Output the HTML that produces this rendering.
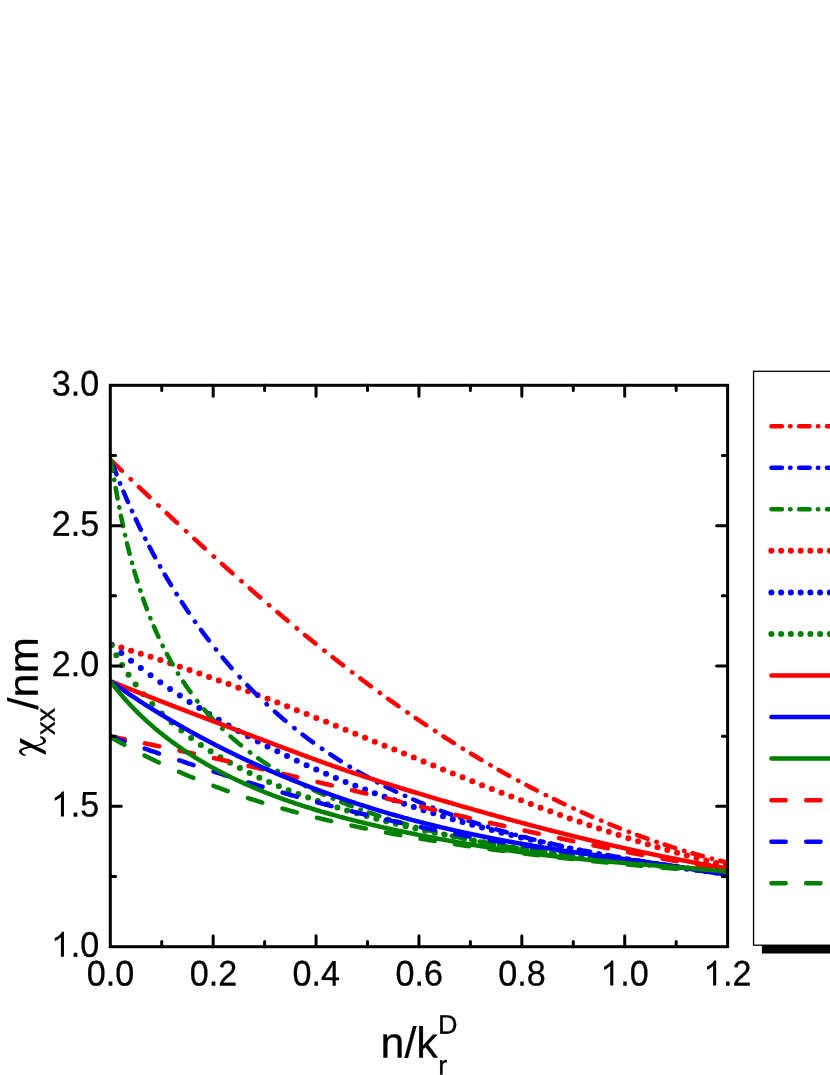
<!DOCTYPE html>
<html><head><meta charset="utf-8"><title>chart</title>
<style>html,body{margin:0;padding:0;background:#fff;overflow:hidden}svg{display:block;will-change:transform}text{font-family:"Liberation Sans",sans-serif;fill:#000;stroke:#000;stroke-width:0.3px}</style>
</head><body>
<svg width="830" height="1075" viewBox="0 0 830 1075">
<rect width="830" height="1075" fill="#fff"/>
<defs><clipPath id="cp"><rect x="109.6" y="380" width="619" height="570"/></clipPath></defs><g id="curves" clip-path="url(#cp)"><circle cx="111.56" cy="644.68" r="3.0" fill="#ff0000"/><circle cx="121.31" cy="647.62" r="3.0" fill="#ff0000"/><circle cx="131.06" cy="650.63" r="3.0" fill="#ff0000"/><circle cx="140.81" cy="653.71" r="3.0" fill="#ff0000"/><circle cx="150.56" cy="656.85" r="3.0" fill="#ff0000"/><circle cx="160.31" cy="660.05" r="3.0" fill="#ff0000"/><circle cx="170.06" cy="663.31" r="3.0" fill="#ff0000"/><circle cx="179.81" cy="666.63" r="3.0" fill="#ff0000"/><circle cx="189.56" cy="670.01" r="3.0" fill="#ff0000"/><circle cx="199.31" cy="673.44" r="3.0" fill="#ff0000"/><circle cx="209.06" cy="676.92" r="3.0" fill="#ff0000"/><circle cx="218.81" cy="680.46" r="3.0" fill="#ff0000"/><circle cx="228.56" cy="684.04" r="3.0" fill="#ff0000"/><circle cx="238.31" cy="687.66" r="3.0" fill="#ff0000"/><circle cx="248.06" cy="691.32" r="3.0" fill="#ff0000"/><circle cx="257.81" cy="695.03" r="3.0" fill="#ff0000"/><circle cx="267.56" cy="698.77" r="3.0" fill="#ff0000"/><circle cx="277.31" cy="702.55" r="3.0" fill="#ff0000"/><circle cx="287.06" cy="706.36" r="3.0" fill="#ff0000"/><circle cx="296.81" cy="710.19" r="3.0" fill="#ff0000"/><circle cx="306.56" cy="714.06" r="3.0" fill="#ff0000"/><circle cx="316.31" cy="717.95" r="3.0" fill="#ff0000"/><circle cx="326.06" cy="721.86" r="3.0" fill="#ff0000"/><circle cx="335.81" cy="725.79" r="3.0" fill="#ff0000"/><circle cx="345.56" cy="729.74" r="3.0" fill="#ff0000"/><circle cx="355.31" cy="733.69" r="3.0" fill="#ff0000"/><circle cx="365.06" cy="737.67" r="3.0" fill="#ff0000"/><circle cx="374.81" cy="741.64" r="3.0" fill="#ff0000"/><circle cx="384.56" cy="745.63" r="3.0" fill="#ff0000"/><circle cx="394.31" cy="749.61" r="3.0" fill="#ff0000"/><circle cx="404.06" cy="753.60" r="3.0" fill="#ff0000"/><circle cx="413.81" cy="757.58" r="3.0" fill="#ff0000"/><circle cx="423.56" cy="761.56" r="3.0" fill="#ff0000"/><circle cx="433.31" cy="765.53" r="3.0" fill="#ff0000"/><circle cx="443.06" cy="769.49" r="3.0" fill="#ff0000"/><circle cx="452.81" cy="773.43" r="3.0" fill="#ff0000"/><circle cx="462.56" cy="777.36" r="3.0" fill="#ff0000"/><circle cx="472.31" cy="781.26" r="3.0" fill="#ff0000"/><circle cx="482.06" cy="785.14" r="3.0" fill="#ff0000"/><circle cx="491.81" cy="788.99" r="3.0" fill="#ff0000"/><circle cx="501.56" cy="792.80" r="3.0" fill="#ff0000"/><circle cx="511.31" cy="796.59" r="3.0" fill="#ff0000"/><circle cx="521.06" cy="800.34" r="3.0" fill="#ff0000"/><circle cx="530.81" cy="804.04" r="3.0" fill="#ff0000"/><circle cx="540.56" cy="807.70" r="3.0" fill="#ff0000"/><circle cx="550.31" cy="811.32" r="3.0" fill="#ff0000"/><circle cx="560.06" cy="814.89" r="3.0" fill="#ff0000"/><circle cx="569.81" cy="818.40" r="3.0" fill="#ff0000"/><circle cx="579.56" cy="821.86" r="3.0" fill="#ff0000"/><circle cx="589.31" cy="825.25" r="3.0" fill="#ff0000"/><circle cx="599.06" cy="828.59" r="3.0" fill="#ff0000"/><circle cx="608.81" cy="831.87" r="3.0" fill="#ff0000"/><circle cx="618.56" cy="835.07" r="3.0" fill="#ff0000"/><circle cx="628.31" cy="838.21" r="3.0" fill="#ff0000"/><circle cx="638.06" cy="841.28" r="3.0" fill="#ff0000"/><circle cx="647.81" cy="844.27" r="3.0" fill="#ff0000"/><circle cx="657.56" cy="847.18" r="3.0" fill="#ff0000"/><circle cx="667.31" cy="850.02" r="3.0" fill="#ff0000"/><circle cx="677.06" cy="852.77" r="3.0" fill="#ff0000"/><circle cx="686.81" cy="855.45" r="3.0" fill="#ff0000"/><circle cx="696.56" cy="858.03" r="3.0" fill="#ff0000"/><circle cx="706.31" cy="860.53" r="3.0" fill="#ff0000"/><circle cx="716.06" cy="862.93" r="3.0" fill="#ff0000"/><circle cx="725.81" cy="865.25" r="3.0" fill="#ff0000"/><circle cx="111.56" cy="645.08" r="3.0" fill="#0000ff"/><circle cx="121.31" cy="653.00" r="3.0" fill="#0000ff"/><circle cx="131.06" cy="660.67" r="3.0" fill="#0000ff"/><circle cx="140.81" cy="668.09" r="3.0" fill="#0000ff"/><circle cx="150.56" cy="675.28" r="3.0" fill="#0000ff"/><circle cx="160.31" cy="682.25" r="3.0" fill="#0000ff"/><circle cx="170.06" cy="689.01" r="3.0" fill="#0000ff"/><circle cx="179.81" cy="695.56" r="3.0" fill="#0000ff"/><circle cx="189.56" cy="701.91" r="3.0" fill="#0000ff"/><circle cx="199.31" cy="708.07" r="3.0" fill="#0000ff"/><circle cx="209.06" cy="714.05" r="3.0" fill="#0000ff"/><circle cx="218.81" cy="719.86" r="3.0" fill="#0000ff"/><circle cx="228.56" cy="725.50" r="3.0" fill="#0000ff"/><circle cx="238.31" cy="730.98" r="3.0" fill="#0000ff"/><circle cx="248.06" cy="736.30" r="3.0" fill="#0000ff"/><circle cx="257.81" cy="741.46" r="3.0" fill="#0000ff"/><circle cx="267.56" cy="746.48" r="3.0" fill="#0000ff"/><circle cx="277.31" cy="751.36" r="3.0" fill="#0000ff"/><circle cx="287.06" cy="756.10" r="3.0" fill="#0000ff"/><circle cx="296.81" cy="760.71" r="3.0" fill="#0000ff"/><circle cx="306.56" cy="765.19" r="3.0" fill="#0000ff"/><circle cx="316.31" cy="769.54" r="3.0" fill="#0000ff"/><circle cx="326.06" cy="773.78" r="3.0" fill="#0000ff"/><circle cx="335.81" cy="777.89" r="3.0" fill="#0000ff"/><circle cx="345.56" cy="781.89" r="3.0" fill="#0000ff"/><circle cx="355.31" cy="785.78" r="3.0" fill="#0000ff"/><circle cx="365.06" cy="789.57" r="3.0" fill="#0000ff"/><circle cx="374.81" cy="793.24" r="3.0" fill="#0000ff"/><circle cx="384.56" cy="796.82" r="3.0" fill="#0000ff"/><circle cx="394.31" cy="800.29" r="3.0" fill="#0000ff"/><circle cx="404.06" cy="803.67" r="3.0" fill="#0000ff"/><circle cx="413.81" cy="806.96" r="3.0" fill="#0000ff"/><circle cx="423.56" cy="810.15" r="3.0" fill="#0000ff"/><circle cx="433.31" cy="813.25" r="3.0" fill="#0000ff"/><circle cx="443.06" cy="816.27" r="3.0" fill="#0000ff"/><circle cx="452.81" cy="819.20" r="3.0" fill="#0000ff"/><circle cx="462.56" cy="822.05" r="3.0" fill="#0000ff"/><circle cx="472.31" cy="824.82" r="3.0" fill="#0000ff"/><circle cx="482.06" cy="827.51" r="3.0" fill="#0000ff"/><circle cx="491.81" cy="830.12" r="3.0" fill="#0000ff"/><circle cx="501.56" cy="832.65" r="3.0" fill="#0000ff"/><circle cx="511.31" cy="835.12" r="3.0" fill="#0000ff"/><circle cx="521.06" cy="837.51" r="3.0" fill="#0000ff"/><circle cx="530.81" cy="839.83" r="3.0" fill="#0000ff"/><circle cx="540.56" cy="842.08" r="3.0" fill="#0000ff"/><circle cx="550.31" cy="844.27" r="3.0" fill="#0000ff"/><circle cx="560.06" cy="846.39" r="3.0" fill="#0000ff"/><circle cx="569.81" cy="848.45" r="3.0" fill="#0000ff"/><circle cx="579.56" cy="850.44" r="3.0" fill="#0000ff"/><circle cx="589.31" cy="852.38" r="3.0" fill="#0000ff"/><circle cx="599.06" cy="854.25" r="3.0" fill="#0000ff"/><circle cx="608.81" cy="856.07" r="3.0" fill="#0000ff"/><circle cx="618.56" cy="857.83" r="3.0" fill="#0000ff"/><circle cx="628.31" cy="859.53" r="3.0" fill="#0000ff"/><circle cx="638.06" cy="861.18" r="3.0" fill="#0000ff"/><circle cx="647.81" cy="862.77" r="3.0" fill="#0000ff"/><circle cx="657.56" cy="864.32" r="3.0" fill="#0000ff"/><circle cx="667.31" cy="865.81" r="3.0" fill="#0000ff"/><circle cx="677.06" cy="867.25" r="3.0" fill="#0000ff"/><circle cx="686.81" cy="868.65" r="3.0" fill="#0000ff"/><circle cx="696.56" cy="869.99" r="3.0" fill="#0000ff"/><circle cx="706.31" cy="871.29" r="3.0" fill="#0000ff"/><circle cx="716.06" cy="872.55" r="3.0" fill="#0000ff"/><circle cx="725.81" cy="873.76" r="3.0" fill="#0000ff"/><circle cx="111.19" cy="645.41" r="3.0" fill="#008000"/><circle cx="116.35" cy="655.16" r="3.0" fill="#008000"/><circle cx="122.11" cy="664.91" r="3.0" fill="#008000"/><circle cx="128.52" cy="674.66" r="3.0" fill="#008000"/><circle cx="135.64" cy="684.41" r="3.0" fill="#008000"/><circle cx="143.53" cy="694.16" r="3.0" fill="#008000"/><circle cx="152.28" cy="703.91" r="3.0" fill="#008000"/><circle cx="161.88" cy="713.57" r="3.0" fill="#008000"/><circle cx="171.63" cy="722.45" r="3.0" fill="#008000"/><circle cx="181.38" cy="730.57" r="3.0" fill="#008000"/><circle cx="191.13" cy="738.02" r="3.0" fill="#008000"/><circle cx="200.88" cy="744.91" r="3.0" fill="#008000"/><circle cx="210.63" cy="751.31" r="3.0" fill="#008000"/><circle cx="220.38" cy="757.27" r="3.0" fill="#008000"/><circle cx="230.13" cy="762.85" r="3.0" fill="#008000"/><circle cx="239.88" cy="768.08" r="3.0" fill="#008000"/><circle cx="249.63" cy="773.00" r="3.0" fill="#008000"/><circle cx="259.38" cy="777.65" r="3.0" fill="#008000"/><circle cx="269.13" cy="782.04" r="3.0" fill="#008000"/><circle cx="278.88" cy="786.20" r="3.0" fill="#008000"/><circle cx="288.63" cy="790.16" r="3.0" fill="#008000"/><circle cx="298.38" cy="793.92" r="3.0" fill="#008000"/><circle cx="308.13" cy="797.52" r="3.0" fill="#008000"/><circle cx="317.88" cy="800.95" r="3.0" fill="#008000"/><circle cx="327.63" cy="804.24" r="3.0" fill="#008000"/><circle cx="337.38" cy="807.40" r="3.0" fill="#008000"/><circle cx="347.13" cy="810.42" r="3.0" fill="#008000"/><circle cx="356.88" cy="813.32" r="3.0" fill="#008000"/><circle cx="366.63" cy="816.10" r="3.0" fill="#008000"/><circle cx="376.38" cy="818.77" r="3.0" fill="#008000"/><circle cx="386.13" cy="821.34" r="3.0" fill="#008000"/><circle cx="395.88" cy="823.80" r="3.0" fill="#008000"/><circle cx="405.63" cy="826.17" r="3.0" fill="#008000"/><circle cx="415.38" cy="828.46" r="3.0" fill="#008000"/><circle cx="425.13" cy="830.66" r="3.0" fill="#008000"/><circle cx="434.88" cy="832.78" r="3.0" fill="#008000"/><circle cx="444.63" cy="834.84" r="3.0" fill="#008000"/><circle cx="454.38" cy="836.81" r="3.0" fill="#008000"/><circle cx="464.13" cy="838.72" r="3.0" fill="#008000"/><circle cx="473.88" cy="840.57" r="3.0" fill="#008000"/><circle cx="483.63" cy="842.34" r="3.0" fill="#008000"/><circle cx="493.38" cy="844.06" r="3.0" fill="#008000"/><circle cx="503.13" cy="845.71" r="3.0" fill="#008000"/><circle cx="512.88" cy="847.30" r="3.0" fill="#008000"/><circle cx="522.63" cy="848.84" r="3.0" fill="#008000"/><circle cx="532.38" cy="850.33" r="3.0" fill="#008000"/><circle cx="542.13" cy="851.76" r="3.0" fill="#008000"/><circle cx="551.88" cy="853.14" r="3.0" fill="#008000"/><circle cx="561.63" cy="854.48" r="3.0" fill="#008000"/><circle cx="571.38" cy="855.76" r="3.0" fill="#008000"/><circle cx="581.13" cy="857.01" r="3.0" fill="#008000"/><circle cx="590.88" cy="858.21" r="3.0" fill="#008000"/><circle cx="600.63" cy="859.37" r="3.0" fill="#008000"/><circle cx="610.38" cy="860.50" r="3.0" fill="#008000"/><circle cx="620.13" cy="861.58" r="3.0" fill="#008000"/><circle cx="629.88" cy="862.64" r="3.0" fill="#008000"/><circle cx="639.63" cy="863.66" r="3.0" fill="#008000"/><circle cx="649.38" cy="864.64" r="3.0" fill="#008000"/><circle cx="659.13" cy="865.60" r="3.0" fill="#008000"/><circle cx="668.88" cy="866.54" r="3.0" fill="#008000"/><circle cx="678.63" cy="867.45" r="3.0" fill="#008000"/><circle cx="688.38" cy="868.33" r="3.0" fill="#008000"/><circle cx="698.13" cy="869.19" r="3.0" fill="#008000"/><circle cx="707.88" cy="870.04" r="3.0" fill="#008000"/><circle cx="717.63" cy="870.86" r="3.0" fill="#008000"/><circle cx="727.38" cy="871.67" r="3.0" fill="#008000"/><path d="M111.32,460.61L111.37,460.67L112.08,461.35L112.79,462.03L113.50,462.71L114.21,463.39L114.91,464.07L115.62,464.75L116.33,465.43L117.04,466.11L117.75,466.79L118.46,467.47L119.17,468.15L119.88,468.83L120.59,469.51L121.30,470.19L121.82,470.68M130.62,479.09L130.65,479.12L131.02,479.47M138.99,487.06L139.05,487.11L139.76,487.80L140.48,488.48L141.20,489.16L141.91,489.84L142.63,490.52L143.35,491.19L144.06,491.87L144.78,492.55L145.50,493.23L146.22,493.91L146.93,494.59L147.65,495.27L148.37,495.95L149.09,496.63L149.49,497.01M158.29,505.30L158.36,505.37L158.69,505.68M166.66,513.16L166.68,513.17L167.40,513.85L168.13,514.53L168.85,515.20L169.58,515.88L170.30,516.56L171.03,517.24L171.75,517.91L172.48,518.59L173.20,519.27L173.93,519.94L174.66,520.62L175.38,521.30L176.11,521.97L176.84,522.65L177.16,522.95M185.96,531.10L186.04,531.17L186.36,531.47M194.33,538.80L194.36,538.83L195.10,539.51L195.83,540.18L196.56,540.85L197.30,541.52L198.03,542.19L198.77,542.87L199.50,543.54L200.24,544.21L200.97,544.88L201.71,545.55L202.44,546.22L203.18,546.89L203.91,547.56L204.65,548.23L204.83,548.39M213.63,556.37L213.69,556.43L214.03,556.73M222.00,563.90L222.03,563.93L222.77,564.59L223.52,565.26L224.26,565.92L225.00,566.59L225.75,567.25L226.49,567.92L227.23,568.58L227.98,569.24L228.72,569.91L229.47,570.57L230.21,571.23L230.96,571.90L231.71,572.56L232.45,573.22L232.50,573.26M241.30,581.04L241.33,581.07L241.70,581.39M249.67,588.36L249.69,588.38L250.44,589.04L251.19,589.69L251.95,590.35L252.70,591.00L253.45,591.66L254.21,592.31L254.96,592.97L255.72,593.62L256.47,594.27L257.23,594.93L257.98,595.58L258.74,596.23L259.49,596.88L260.17,597.47M268.97,605.01L268.97,605.01L269.37,605.35M277.34,612.12L277.34,612.12L278.11,612.77L278.87,613.41L279.63,614.05L280.40,614.70L281.16,615.34L281.93,615.98L282.69,616.63L283.46,617.27L284.22,617.91L284.99,618.55L285.75,619.19L286.52,619.83L287.29,620.47L287.84,620.93M296.64,628.23L296.70,628.28L297.04,628.56M305.01,635.09L305.10,635.17L305.87,635.80L306.65,636.43L307.42,637.06L308.20,637.69L308.97,638.32L309.75,638.95L310.53,639.58L311.30,640.20L312.08,640.83L312.85,641.46L313.63,642.08L314.41,642.71L315.19,643.34L315.51,643.59M324.31,650.62L324.35,650.66L324.71,650.94M332.68,657.23L332.77,657.30L333.56,657.92L334.34,658.53L335.13,659.15L335.92,659.76L336.70,660.37L337.49,660.99L338.28,661.60L339.07,662.21L339.85,662.82L340.64,663.43L341.43,664.04L342.22,664.65L343.01,665.26L343.18,665.39M351.98,672.14L352.01,672.16L352.38,672.44M360.35,678.47L360.36,678.48L361.16,679.07L361.95,679.67L362.75,680.27L363.55,680.87L364.35,681.46L365.15,682.06L365.95,682.65L366.75,683.25L367.55,683.84L368.35,684.43L369.15,685.03L369.95,685.62L370.75,686.21L370.85,686.29M379.65,692.73L379.69,692.76L380.05,693.02M388.02,698.77L388.06,698.80L388.87,699.38L389.68,699.96L390.49,700.54L391.30,701.11L392.11,701.69L392.92,702.27L393.73,702.84L394.54,703.42L395.36,703.99L396.17,704.57L396.98,705.14L397.79,705.71L398.52,706.22M407.32,712.36L407.38,712.40L407.72,712.63M415.69,718.10L415.78,718.16L416.60,718.72L417.42,719.28L418.24,719.83L419.07,720.39L419.89,720.95L420.71,721.50L421.54,722.06L422.36,722.61L423.19,723.16L424.01,723.72L424.84,724.27L425.66,724.82L426.19,725.17M434.99,730.98L435.08,731.05L435.39,731.25M443.36,736.42L443.41,736.45L444.24,736.99L445.07,737.52L445.91,738.06L446.75,738.59L447.58,739.12L448.42,739.66L449.25,740.19L450.09,740.72L450.93,741.25L451.77,741.78L452.61,742.31L453.44,742.84L453.86,743.10M462.66,748.59L462.70,748.61L463.06,748.83M471.03,753.70L471.04,753.71L471.89,754.23L472.74,754.74L473.59,755.25L474.44,755.76L475.29,756.27L476.14,756.78L476.99,757.29L477.84,757.80L478.69,758.30L479.54,758.81L480.39,759.31L481.24,759.82L481.53,759.99M490.33,765.14L490.43,765.20L490.73,765.37M498.70,769.94L498.80,769.99L499.66,770.48L500.52,770.97L501.38,771.45L502.24,771.94L503.11,772.42L503.97,772.91L504.83,773.39L505.70,773.87L506.56,774.35L507.43,774.84L508.29,775.32L509.16,775.79L509.20,775.82M518.00,780.63L518.05,780.66L518.40,780.84M526.37,785.10L526.45,785.14L527.32,785.60L528.20,786.06L529.07,786.52L529.95,786.98L530.83,787.44L531.70,787.90L532.58,788.35L533.46,788.81L534.34,789.26L535.21,789.72L536.09,790.17L536.87,790.57M545.67,795.03L545.68,795.04L546.07,795.24M554.04,799.18L554.10,799.21L554.99,799.64L555.87,800.08L556.76,800.51L557.65,800.94L558.54,801.37L559.43,801.80L560.33,802.23L561.22,802.66L562.11,803.08L563.00,803.51L563.89,803.93L564.54,804.24M573.34,808.36L573.41,808.39L573.74,808.54M581.71,812.17L581.74,812.19L582.64,812.59L583.54,813.00L584.44,813.40L585.35,813.80L586.25,814.20L587.16,814.60L588.06,815.00L588.97,815.40L589.87,815.80L590.78,816.20L591.69,816.59L592.21,816.82M601.01,820.59L601.01,820.59L601.41,820.76M609.38,824.08L609.47,824.11L610.39,824.49L611.31,824.86L612.22,825.24L613.14,825.61L614.06,825.98L614.98,826.35L615.90,826.72L616.82,827.09L617.74,827.46L618.66,827.82L619.58,828.19L619.88,828.31M628.68,831.73L628.71,831.74L629.08,831.88M637.05,834.89L637.07,834.89L638.00,835.24L638.93,835.58L639.86,835.92L640.80,836.27L641.73,836.61L642.66,836.95L643.60,837.28L644.53,837.62L645.47,837.96L646.40,838.29L647.34,838.63L647.55,838.70M656.35,841.78L656.38,841.79L656.75,841.92M664.72,844.60L664.75,844.62L665.70,844.93L666.64,845.24L667.59,845.55L668.54,845.86L669.49,846.17L670.43,846.48L671.38,846.78L672.33,847.09L673.28,847.39L674.23,847.70L675.18,848.00L675.22,848.01M684.02,850.74L684.12,850.77L684.42,850.86M692.39,853.24L692.39,853.24L693.35,853.52L694.31,853.80L695.27,854.08L696.24,854.35L697.20,854.63L698.16,854.90L699.13,855.18L700.09,855.45L701.06,855.72L702.02,855.99L702.89,856.23M711.69,858.62L711.70,858.63L712.09,858.73M720.06,860.79L720.10,860.80L721.07,861.05L722.05,861.30L723.03,861.54L724.01,861.78L724.98,862.03L725.96,862.27L726.94,862.51L727.67,862.68" fill="none" stroke="#ff0000" stroke-width="4.5" stroke-linecap="round" stroke-linejoin="round"/><path d="M112.40,463.86L112.43,463.95L112.80,464.93L113.18,465.91L113.55,466.89L113.93,467.88L114.31,468.86L114.69,469.84L115.07,470.82L115.45,471.80L115.83,472.78L116.22,473.76L116.46,474.36M119.99,483.16L120.00,483.18L120.15,483.56M123.47,491.53L123.49,491.59L123.90,492.56L124.32,493.53L124.73,494.51L125.15,495.48L125.56,496.45L125.98,497.42L126.40,498.39L126.82,499.36L127.25,500.33L127.67,501.30L127.99,502.03M131.93,510.83L131.94,510.85L132.11,511.23M135.80,519.20L135.83,519.27L136.28,520.23L136.74,521.19L137.19,522.15L137.65,523.11L138.10,524.06L138.56,525.02L139.02,525.98L139.49,526.93L139.95,527.89L140.41,528.84L140.83,529.70M145.21,538.50L145.26,538.59L145.42,538.90M149.52,546.87L149.57,546.97L150.06,547.91L150.56,548.85L151.05,549.79L151.55,550.73L152.05,551.67L152.55,552.61L153.05,553.54L153.56,554.48L154.06,555.42L154.57,556.35L155.07,557.28L155.12,557.37M160.00,566.17L160.03,566.23L160.22,566.57M164.79,574.54L164.85,574.64L165.39,575.56L165.93,576.48L166.46,577.40L167.00,578.31L167.55,579.22L168.09,580.14L168.63,581.05L169.18,581.96L169.73,582.87L170.28,583.78L170.83,584.69L171.04,585.04M176.48,593.84L176.55,593.95L176.73,594.24M181.84,602.21L181.85,602.22L182.43,603.10L183.01,603.99L183.59,604.88L184.18,605.76L184.76,606.65L185.35,607.53L185.94,608.41L186.53,609.29L187.12,610.17L187.71,611.05L188.31,611.93L188.84,612.71M194.95,621.51L194.95,621.51L195.23,621.91M200.97,629.88L200.98,629.89L201.61,630.74L202.24,631.60L202.87,632.45L203.50,633.30L204.13,634.14L204.76,634.99L205.40,635.84L206.04,636.68L206.68,637.52L207.32,638.36L207.96,639.20L208.60,640.04L208.86,640.38M215.77,649.18L215.77,649.19L216.09,649.58M222.61,657.55L222.62,657.57L223.30,658.38L223.97,659.19L224.65,659.99L225.33,660.80L226.02,661.60L226.70,662.40L227.39,663.21L228.07,664.01L228.76,664.80L229.45,665.60L230.14,666.40L230.84,667.19L231.53,667.98L231.59,668.05M239.50,676.85L239.54,676.89L239.86,677.25M247.36,685.22L247.37,685.23L248.10,685.99L248.83,686.74L249.57,687.50L250.30,688.25L251.04,689.00L251.77,689.75L252.51,690.50L253.25,691.25L254.00,691.99L254.74,692.73L255.48,693.47L256.23,694.21L256.98,694.95L257.73,695.69M266.53,704.10L266.55,704.13L266.93,704.47M274.90,711.72L274.90,711.72L275.68,712.42L276.47,713.12L277.26,713.81L278.05,714.50L278.84,715.19L279.63,715.88L280.43,716.56L281.22,717.25L282.02,717.93L282.82,718.61L283.62,719.29L284.42,719.97L285.22,720.65L285.40,720.79M294.20,728.01L294.25,728.05L294.60,728.33M302.57,734.57L302.61,734.60L303.44,735.24L304.28,735.88L305.11,736.51L305.95,737.14L306.79,737.77L307.63,738.40L308.47,739.03L309.31,739.65L310.16,740.28L311.00,740.90L311.85,741.52L312.70,742.14L313.07,742.41M321.87,748.66L321.89,748.67L322.27,748.93M330.24,754.35L330.25,754.35L331.12,754.94L332.00,755.51L332.87,756.09L333.75,756.67L334.63,757.24L335.51,757.81L336.39,758.38L337.27,758.95L338.16,759.52L339.04,760.08L339.93,760.65L340.74,761.16M349.54,766.59L349.64,766.66L349.94,766.83M357.91,771.55L358.00,771.60L358.91,772.13L359.82,772.65L360.73,773.17L361.65,773.69L362.56,774.21L363.48,774.73L364.39,775.24L365.31,775.76L366.23,776.27L367.14,776.78L368.06,777.28L368.41,777.47M377.21,782.20L377.32,782.26L377.61,782.41M385.58,786.51L385.62,786.53L386.56,787.00L387.50,787.47L388.44,787.94L389.38,788.41L390.32,788.87L391.27,789.34L392.21,789.80L393.16,790.26L394.10,790.71L395.05,791.17L396.00,791.62L396.08,791.66M404.88,795.77L404.93,795.80L405.28,795.95M413.25,799.51L413.34,799.55L414.31,799.97L415.27,800.39L416.24,800.81L417.21,801.22L418.17,801.64L419.14,802.05L420.11,802.46L421.08,802.87L422.05,803.28L423.03,803.69L423.75,803.99M432.55,807.56L432.66,807.61L432.95,807.72M440.92,810.82L441.02,810.86L442.01,811.24L442.99,811.61L443.98,811.98L444.97,812.35L445.96,812.72L446.95,813.09L447.94,813.46L448.93,813.82L449.92,814.18L450.91,814.55L451.42,814.73M460.22,817.85L460.25,817.86L460.62,817.99M468.59,820.71L468.63,820.72L469.64,821.06L470.64,821.39L471.65,821.72L472.65,822.05L473.66,822.38L474.66,822.71L475.67,823.03L476.68,823.36L477.69,823.68L478.70,824.00L479.09,824.13M487.89,826.87L487.93,826.88L488.29,826.99M496.26,829.37L496.31,829.39L497.33,829.69L498.35,829.98L499.37,830.28L500.39,830.57L501.41,830.87L502.43,831.16L503.45,831.45L504.47,831.74L505.49,832.03L506.52,832.31L506.76,832.38M515.56,834.79L515.61,834.81L515.96,834.90M523.93,837.00L523.96,837.01L524.99,837.27L526.02,837.54L527.05,837.80L528.08,838.07L529.11,838.33L530.14,838.59L531.17,838.85L532.20,839.10L533.24,839.36L534.27,839.62L534.43,839.66M543.23,841.79L543.32,841.81L543.63,841.88M551.60,843.74L551.61,843.75L552.65,843.98L553.68,844.22L554.72,844.46L555.76,844.69L556.80,844.92L557.84,845.16L558.88,845.39L559.92,845.62L560.96,845.85L561.99,846.08L562.10,846.10M570.90,848.00L570.97,848.01L571.30,848.08M579.27,849.74L579.31,849.74L580.35,849.96L581.39,850.17L582.43,850.38L583.48,850.59L584.52,850.80L585.56,851.01L586.61,851.22L587.65,851.42L588.70,851.63L589.74,851.83L589.77,851.84M598.57,853.54L598.62,853.55L598.97,853.61M606.94,855.10L606.97,855.11L608.02,855.30L609.06,855.49L610.11,855.68L611.15,855.87L612.20,856.06L613.24,856.25L614.29,856.44L615.33,856.62L616.38,856.81L617.42,856.99L617.44,857.00M626.24,858.53L626.31,858.54L626.64,858.60M634.61,859.95L634.66,859.96L635.71,860.13L636.75,860.31L637.79,860.48L638.84,860.65L639.88,860.83L640.93,861.00L641.97,861.17L643.01,861.34L644.06,861.51L645.10,861.68L645.11,861.68M653.91,863.08L653.96,863.09L654.31,863.15M662.28,864.39L662.30,864.39L663.34,864.55L664.38,864.71L665.42,864.87L666.46,865.03L667.50,865.19L668.54,865.35L669.58,865.50L670.62,865.66L671.65,865.82L672.69,865.98L672.78,865.99M681.58,867.30L681.64,867.31L681.98,867.36M689.95,868.52L690.06,868.54L691.09,868.69L692.12,868.84L693.16,868.99L694.19,869.13L695.22,869.28L696.26,869.43L697.29,869.58L698.32,869.73L699.35,869.87L700.38,870.02L700.45,870.03M709.25,871.28L709.26,871.28L709.65,871.33M717.62,872.45L717.73,872.46L718.76,872.61L719.78,872.75L720.80,872.89L721.83,873.03L722.85,873.18L723.87,873.32L724.90,873.46L725.92,873.60L726.94,873.74L727.45,873.81" fill="none" stroke="#0000ff" stroke-width="4.5" stroke-linecap="round" stroke-linejoin="round"/><path d="M111.00,460.32L111.02,460.45L111.19,461.52L111.37,462.60L111.55,463.68L111.72,464.75L111.90,465.83L112.08,466.91L112.25,467.98L112.43,469.06L112.61,470.14L112.72,470.82M114.21,479.62L114.23,479.73L114.28,480.02M115.68,487.99L115.70,488.12L115.89,489.20L116.09,490.28L116.28,491.37L116.48,492.45L116.67,493.53L116.87,494.62L117.07,495.70L117.27,496.79L117.47,497.87L117.59,498.49M119.26,507.29L119.28,507.37L119.34,507.69M120.93,515.66L120.95,515.78L121.17,516.87L121.40,517.95L121.62,519.04L121.85,520.13L122.08,521.21L122.30,522.30L122.53,523.38L122.77,524.47L123.00,525.55L123.13,526.16M125.08,534.96L125.10,535.04L125.17,535.36M127.04,543.33L127.06,543.43L127.32,544.51L127.58,545.59L127.85,546.67L128.11,547.76L128.38,548.84L128.65,549.92L128.92,551.00L129.19,552.08L129.47,553.16L129.64,553.83M131.97,562.63L131.99,562.72L132.08,563.03M134.31,571.00L134.32,571.04L134.63,572.11L134.94,573.18L135.26,574.25L135.57,575.32L135.89,576.39L136.21,577.46L136.53,578.53L136.86,579.59L137.19,580.66L137.44,581.50M140.25,590.30L140.28,590.37L140.39,590.70M143.09,598.67L143.11,598.70L143.48,599.76L143.85,600.81L144.22,601.86L144.60,602.92L144.98,603.97L145.36,605.02L145.75,606.07L146.14,607.12L146.53,608.16L146.90,609.17M150.32,617.97L150.36,618.06L150.49,618.37M153.79,626.34L153.83,626.44L154.27,627.47L154.72,628.49L155.16,629.51L155.61,630.53L156.06,631.55L156.51,632.57L156.97,633.59L157.43,634.61L157.89,635.62L158.36,636.63L158.45,636.84M162.65,645.64L162.67,645.68L162.84,646.04M166.91,654.01L166.96,654.10L167.48,655.08L168.00,656.06L168.53,657.04L169.06,658.02L169.59,658.99L170.12,659.97L170.66,660.94L171.20,661.91L171.75,662.87L172.30,663.84L172.68,664.51M177.90,673.31L177.94,673.37L178.15,673.71M183.24,681.68L183.30,681.77L183.91,682.69L184.53,683.61L185.15,684.52L185.77,685.44L186.40,686.35L187.02,687.26L187.66,688.17L188.29,689.07L188.93,689.97L189.57,690.87L190.22,691.77L190.52,692.18M197.18,700.98L197.22,701.03L197.49,701.38M204.05,709.35L204.06,709.35L204.78,710.19L205.50,711.03L206.23,711.86L206.96,712.69L207.69,713.52L208.43,714.34L209.17,715.16L209.91,715.98L210.66,716.80L211.41,717.61L212.16,718.42L212.92,719.23L213.50,719.85M222.15,728.60L222.23,728.68L222.55,728.98M230.52,736.39L230.52,736.40L231.35,737.13L232.17,737.87L233.01,738.60L233.84,739.32L234.67,740.04L235.51,740.76L236.35,741.48L237.20,742.19L238.04,742.90L238.89,743.61L239.74,744.31L240.60,745.01L241.02,745.35M249.82,752.24L249.82,752.24L250.22,752.54M258.19,758.31L258.30,758.39L259.20,759.01L260.11,759.64L261.01,760.26L261.92,760.88L262.84,761.50L263.75,762.11L264.67,762.73L265.58,763.33L266.50,763.94L267.43,764.54L268.35,765.14L268.69,765.35M277.49,770.82L277.58,770.88L277.89,771.06M285.86,775.71L285.91,775.74L286.87,776.28L287.83,776.81L288.79,777.35L289.76,777.88L290.72,778.41L291.69,778.94L292.66,779.47L293.63,779.99L294.60,780.51L295.58,781.02L296.36,781.44M305.16,785.94L305.26,785.99L305.56,786.14M313.53,789.99L313.58,790.02L314.58,790.49L315.58,790.96L316.58,791.42L317.58,791.89L318.58,792.35L319.59,792.80L320.59,793.26L321.60,793.71L322.60,794.17L323.61,794.62L324.03,794.80M332.83,798.61L332.85,798.62L333.23,798.78M341.20,802.08L341.25,802.10L342.28,802.51L343.30,802.92L344.32,803.33L345.35,803.74L346.37,804.14L347.40,804.54L348.43,804.94L349.46,805.34L350.48,805.74L351.51,806.14L351.70,806.20M360.50,809.49L360.55,809.51L360.90,809.63M368.87,812.47L368.99,812.52L370.03,812.88L371.08,813.24L372.12,813.60L373.16,813.95L374.21,814.31L375.25,814.66L376.30,815.01L377.35,815.36L378.39,815.71L379.37,816.03M388.17,818.86L388.24,818.88L388.57,818.98M396.54,821.43L396.56,821.44L397.61,821.75L398.67,822.07L399.73,822.38L400.79,822.69L401.85,823.00L402.92,823.31L403.98,823.62L405.04,823.92L406.10,824.23L407.04,824.49M415.84,826.93L415.96,826.97L416.24,827.04M424.21,829.15L424.26,829.16L425.33,829.44L426.40,829.71L427.47,829.99L428.55,830.26L429.62,830.53L430.70,830.80L431.77,831.07L432.85,831.33L433.92,831.60L434.71,831.79M443.51,833.89L443.63,833.92L443.91,833.98M451.88,835.80L451.88,835.80L452.97,836.04L454.05,836.28L455.13,836.52L456.22,836.76L457.31,836.99L458.39,837.23L459.48,837.46L460.56,837.69L461.65,837.92L462.38,838.08M471.18,839.89L471.18,839.89L471.58,839.97M479.55,841.54L479.64,841.55L480.73,841.76L481.83,841.97L482.92,842.18L484.01,842.39L485.11,842.59L486.20,842.80L487.30,843.00L488.39,843.20L489.49,843.40L490.05,843.50M498.85,845.07L498.95,845.09L499.25,845.14M507.22,846.50L507.33,846.51L508.43,846.70L509.53,846.88L510.63,847.06L511.73,847.24L512.83,847.42L513.93,847.60L515.04,847.77L516.14,847.95L517.24,848.12L517.72,848.20M526.52,849.56L526.61,849.58L526.92,849.62M534.89,850.80L534.89,850.80L536.00,850.96L537.10,851.12L538.21,851.28L539.31,851.44L540.42,851.60L541.53,851.75L542.63,851.91L543.74,852.06L544.84,852.21L545.39,852.29M554.19,853.48L554.25,853.49L554.59,853.53M562.56,854.57L562.69,854.59L563.80,854.73L564.90,854.87L566.01,855.01L567.12,855.15L568.23,855.29L569.34,855.42L570.44,855.56L571.55,855.70L572.66,855.83L573.06,855.88M581.86,856.94L581.94,856.95L582.26,856.99M590.23,857.91L590.25,857.91L591.36,858.04L592.46,858.16L593.57,858.29L594.68,858.41L595.79,858.54L596.89,858.66L598.00,858.79L599.11,858.91L600.22,859.03L600.73,859.09M609.53,860.04L609.63,860.05L609.93,860.08M617.90,860.93L617.93,860.93L619.04,861.05L620.14,861.16L621.25,861.27L622.35,861.39L623.46,861.50L624.57,861.62L625.67,861.73L626.78,861.84L627.88,861.96L628.40,862.01M637.20,862.89L637.27,862.90L637.60,862.93M645.57,863.72L645.68,863.73L646.78,863.84L647.89,863.95L648.99,864.06L650.09,864.17L651.19,864.27L652.29,864.38L653.39,864.49L654.50,864.59L655.60,864.70L656.07,864.75M664.87,865.60L664.94,865.60L665.27,865.63M673.24,866.40L673.31,866.41L674.41,866.51L675.50,866.62L676.60,866.72L677.70,866.83L678.79,866.93L679.89,867.04L680.98,867.14L682.08,867.25L683.17,867.35L683.74,867.41M692.54,868.25L692.59,868.26L692.94,868.29M700.91,869.06L701.04,869.07L702.13,869.18L703.21,869.29L704.30,869.39L705.39,869.50L706.48,869.61L707.56,869.71L708.65,869.82L709.73,869.93L710.82,870.03L711.41,870.09M720.21,870.97L720.30,870.98L720.61,871.01" fill="none" stroke="#008000" stroke-width="4.5" stroke-linecap="round" stroke-linejoin="round"/><path d="M111.00,736.61L111.10,736.62L111.93,736.78L112.75,736.94L113.58,737.10L114.41,737.27L115.23,737.43L116.06,737.59L116.88,737.75L117.71,737.91L118.53,738.07L119.36,738.23L120.19,738.39L121.01,738.56L121.84,738.72L122.66,738.88L123.49,739.04L124.31,739.21L124.80,739.30M145.00,743.36L145.03,743.37L145.86,743.54L146.68,743.71L147.51,743.88L148.33,744.05L149.15,744.22L149.98,744.39L150.80,744.56L151.63,744.72L152.45,744.89L153.27,745.07L154.10,745.24L154.92,745.41L155.75,745.58L156.57,745.75L157.39,745.92L158.22,746.09L159.04,746.26L159.30,746.32M179.50,750.58L179.51,750.59L180.34,750.76L181.16,750.94L181.98,751.12L182.80,751.29L183.63,751.47L184.45,751.65L185.27,751.82L186.09,752.00L186.92,752.18L187.74,752.36L188.56,752.53L189.38,752.71L190.20,752.89L191.03,753.07L191.85,753.25L192.67,753.43L193.49,753.60L193.80,753.67M214.00,758.11L214.03,758.12L214.86,758.30L215.68,758.49L216.50,758.67L217.32,758.85L218.14,759.04L218.96,759.22L219.78,759.40L220.60,759.59L221.43,759.77L222.25,759.95L223.07,760.14L223.89,760.32L224.71,760.51L225.53,760.69L226.35,760.87L227.17,761.06L227.99,761.24L228.30,761.31M248.50,765.90L248.51,765.90L249.33,766.09L250.15,766.28L250.97,766.46L251.79,766.65L252.61,766.84L253.43,767.03L254.25,767.22L255.07,767.40L255.89,767.59L256.71,767.78L257.53,767.97L258.35,768.16L259.17,768.35L259.99,768.54L260.81,768.73L261.63,768.92L262.45,769.11L262.80,769.19M283.00,773.88L283.04,773.89L283.86,774.08L284.68,774.28L285.50,774.47L286.32,774.66L287.14,774.85L287.96,775.04L288.78,775.24L289.59,775.43L290.41,775.62L291.23,775.81L292.05,776.00L292.87,776.20L293.69,776.39L294.51,776.58L295.33,776.77L296.15,776.97L296.97,777.16L297.30,777.24M317.50,782.01L317.55,782.02L318.36,782.22L319.18,782.41L320.00,782.60L320.82,782.80L321.64,782.99L322.46,783.19L323.28,783.38L324.10,783.58L324.92,783.77L325.73,783.97L326.55,784.16L327.37,784.35L328.19,784.55L329.01,784.74L329.83,784.94L330.65,785.13L331.47,785.33L331.80,785.41M352.00,790.22L352.03,790.23L352.85,790.43L353.67,790.62L354.49,790.82L355.31,791.01L356.13,791.21L356.95,791.41L357.76,791.60L358.58,791.80L359.40,791.99L360.22,792.19L361.04,792.38L361.86,792.58L362.68,792.78L363.49,792.97L364.31,793.17L365.13,793.36L365.95,793.56L366.30,793.64M386.50,798.47L386.52,798.47L387.33,798.67L388.15,798.86L388.97,799.06L389.79,799.25L390.61,799.45L391.43,799.65L392.25,799.84L393.06,800.04L393.88,800.23L394.70,800.43L395.52,800.62L396.34,800.82L397.16,801.01L397.98,801.21L398.80,801.40L399.61,801.60L400.43,801.79L400.80,801.88M421.00,806.68L421.00,806.69L421.82,806.88L422.64,807.07L423.46,807.27L424.28,807.46L425.10,807.66L425.92,807.85L426.73,808.04L427.55,808.24L428.37,808.43L429.19,808.63L430.01,808.82L430.83,809.01L431.65,809.21L432.47,809.40L433.29,809.59L434.11,809.79L434.92,809.98L435.30,810.07M455.50,814.82L455.51,814.82L456.32,815.01L457.14,815.20L457.96,815.39L458.78,815.58L459.60,815.78L460.42,815.97L461.24,816.16L462.06,816.35L462.88,816.54L463.70,816.73L464.52,816.92L465.34,817.11L466.16,817.30L466.98,817.49L467.80,817.68L468.62,817.88L469.44,818.07L469.80,818.15M490.00,822.81L490.03,822.82L490.85,823.00L491.67,823.19L492.49,823.38L493.32,823.57L494.14,823.75L494.96,823.94L495.78,824.13L496.60,824.32L497.42,824.50L498.24,824.69L499.06,824.88L499.88,825.06L500.70,825.25L501.52,825.44L502.34,825.62L503.16,825.81L503.98,825.99L504.30,826.07M524.50,830.60L524.60,830.63L525.42,830.81L526.24,830.99L527.06,831.17L527.89,831.36L528.71,831.54L529.53,831.72L530.35,831.90L531.17,832.08L531.99,832.26L532.81,832.45L533.64,832.63L534.46,832.81L535.28,832.99L536.10,833.17L536.92,833.35L537.74,833.53L538.56,833.71L538.80,833.76M559.00,838.14L559.01,838.15L559.83,838.32L560.66,838.50L561.48,838.68L562.30,838.85L563.12,839.03L563.95,839.20L564.77,839.38L565.59,839.55L566.41,839.73L567.24,839.90L568.06,840.08L568.88,840.25L569.71,840.42L570.53,840.60L571.35,840.77L572.17,840.95L573.00,841.12L573.30,841.18M593.50,845.38L593.58,845.40L594.41,845.56L595.23,845.73L596.06,845.90L596.88,846.07L597.70,846.24L598.53,846.40L599.35,846.57L600.18,846.74L601.00,846.91L601.83,847.07L602.65,847.24L603.47,847.40L604.30,847.57L605.12,847.74L605.95,847.90L606.77,848.07L607.60,848.23L607.80,848.27M628.00,852.25L628.02,852.25L628.85,852.41L629.67,852.57L630.50,852.73L631.32,852.89L632.15,853.05L632.98,853.21L633.80,853.37L634.63,853.52L635.45,853.68L636.28,853.84L637.11,854.00L637.93,854.15L638.76,854.31L639.59,854.47L640.41,854.62L641.24,854.78L642.06,854.94L642.30,854.98M662.50,858.71L662.54,858.72L663.37,858.86L664.19,859.01L665.02,859.16L665.85,859.31L666.68,859.46L667.51,859.61L668.33,859.76L669.16,859.90L669.99,860.05L670.82,860.20L671.65,860.34L672.47,860.49L673.30,860.64L674.13,860.78L674.96,860.93L675.79,861.07L676.62,861.22L676.80,861.25M697.00,864.70L697.04,864.71L697.87,864.85L698.70,864.98L699.53,865.12L700.36,865.26L701.19,865.39L702.02,865.53L702.85,865.67L703.68,865.80L704.51,865.94L705.35,866.07L706.18,866.21L707.01,866.34L707.84,866.48L708.67,866.61L709.50,866.75L710.33,866.88L711.16,867.01L711.30,867.04" fill="none" stroke="#ff0000" stroke-width="4.5" stroke-linecap="round" stroke-linejoin="round"/><path d="M111.01,736.79L111.11,736.82L111.90,737.11L112.69,737.39L113.49,737.67L114.28,737.95L115.07,738.23L115.86,738.51L116.65,738.79L117.44,739.07L118.23,739.35L119.02,739.63L119.82,739.91L120.61,740.19L121.40,740.47L122.19,740.75L122.98,741.03L123.78,741.31L124.51,741.57M144.71,748.62L144.72,748.63L145.52,748.90L146.31,749.18L147.11,749.45L147.91,749.73L148.70,750.00L149.50,750.27L150.30,750.55L151.09,750.82L151.89,751.10L152.69,751.37L153.48,751.64L154.28,751.92L155.08,752.19L155.87,752.46L156.67,752.73L157.47,753.01L158.27,753.28L159.01,753.53M179.21,760.35L179.25,760.36L180.05,760.63L180.85,760.90L181.65,761.16L182.45,761.43L183.26,761.70L184.06,761.96L184.86,762.23L185.66,762.49L186.46,762.76L187.26,763.02L188.07,763.29L188.87,763.55L189.67,763.82L190.47,764.08L191.28,764.35L192.08,764.61L192.88,764.88L193.51,765.08M213.71,771.63L213.79,771.66L214.60,771.91L215.40,772.17L216.21,772.43L217.01,772.69L217.82,772.94L218.63,773.20L219.43,773.45L220.24,773.71L221.04,773.97L221.85,774.22L222.66,774.48L223.47,774.73L224.27,774.99L225.08,775.24L225.89,775.50L226.69,775.75L227.50,776.00L228.01,776.16M248.21,782.42L248.22,782.42L249.03,782.67L249.84,782.91L250.65,783.16L251.46,783.40L252.27,783.65L253.09,783.90L253.90,784.14L254.71,784.39L255.52,784.63L256.33,784.87L257.14,785.12L257.95,785.36L258.76,785.61L259.57,785.85L260.38,786.09L261.20,786.33L262.01,786.58L262.51,786.73M282.71,792.65L282.74,792.66L283.55,792.89L284.36,793.13L285.18,793.36L285.99,793.60L286.81,793.83L287.62,794.06L288.44,794.29L289.25,794.53L290.07,794.76L290.88,794.99L291.70,795.22L292.51,795.45L293.33,795.68L294.14,795.91L294.96,796.14L295.77,796.37L296.59,796.60L297.01,796.72M317.21,802.29L317.31,802.32L318.13,802.54L318.95,802.76L319.76,802.98L320.58,803.20L321.40,803.42L322.22,803.64L323.04,803.86L323.86,804.08L324.67,804.29L325.49,804.51L326.31,804.73L327.13,804.95L327.95,805.16L328.77,805.38L329.59,805.59L330.41,805.81L331.22,806.03L331.51,806.10M351.71,811.29L351.73,811.29L352.55,811.49L353.37,811.70L354.19,811.91L355.01,812.11L355.83,812.31L356.66,812.52L357.48,812.72L358.30,812.92L359.12,813.13L359.94,813.33L360.77,813.53L361.59,813.73L362.41,813.93L363.23,814.14L364.05,814.34L364.88,814.54L365.70,814.74L366.01,814.81M386.21,819.58L386.28,819.60L387.10,819.79L387.93,819.98L388.75,820.16L389.58,820.35L390.40,820.54L391.23,820.73L392.05,820.91L392.88,821.10L393.70,821.29L394.53,821.47L395.35,821.66L396.18,821.84L397.00,822.03L397.83,822.21L398.65,822.39L399.48,822.58L400.30,822.76L400.51,822.81M420.71,827.14L420.75,827.14L421.58,827.31L422.40,827.49L423.23,827.66L424.06,827.83L424.88,828.00L425.71,828.17L426.54,828.33L427.37,828.50L428.19,828.67L429.02,828.84L429.85,829.00L430.68,829.17L431.50,829.34L432.33,829.50L433.16,829.67L433.99,829.83L434.81,830.00L435.01,830.04M455.21,833.91L455.22,833.91L456.05,834.06L456.88,834.22L457.71,834.37L458.54,834.52L459.37,834.67L460.20,834.83L461.03,834.98L461.86,835.13L462.68,835.28L463.51,835.43L464.34,835.58L465.17,835.73L466.00,835.88L466.83,836.03L467.66,836.18L468.49,836.32L469.32,836.47L469.51,836.50M489.71,839.98L489.78,840.00L490.62,840.13L491.45,840.27L492.28,840.41L493.11,840.55L493.94,840.69L494.77,840.82L495.60,840.96L496.44,841.10L497.27,841.23L498.10,841.37L498.93,841.51L499.76,841.64L500.60,841.78L501.43,841.91L502.26,842.05L503.09,842.18L503.92,842.31L504.01,842.33M524.21,845.49L524.22,845.50L525.05,845.62L525.89,845.75L526.72,845.88L527.55,846.00L528.39,846.13L529.22,846.26L530.05,846.38L530.89,846.51L531.72,846.63L532.55,846.76L533.39,846.88L534.22,847.01L535.06,847.13L535.89,847.25L536.72,847.38L537.56,847.50L538.39,847.63L538.51,847.64M558.71,850.57L558.73,850.57L559.56,850.69L560.39,850.81L561.23,850.93L562.06,851.05L562.90,851.17L563.73,851.28L564.57,851.40L565.40,851.52L566.24,851.64L567.07,851.75L567.91,851.87L568.74,851.99L569.58,852.10L570.41,852.22L571.25,852.34L572.08,852.45L572.92,852.57L573.01,852.58M593.21,855.35L593.28,855.36L594.12,855.47L594.96,855.59L595.79,855.70L596.63,855.81L597.46,855.92L598.30,856.04L599.14,856.15L599.97,856.26L600.81,856.37L601.64,856.49L602.48,856.60L603.32,856.71L604.15,856.82L604.99,856.94L605.82,857.05L606.66,857.16L607.50,857.27L607.51,857.28M627.71,859.99L627.78,860.00L628.62,860.11L629.45,860.22L630.29,860.33L631.13,860.45L631.96,860.56L632.80,860.67L633.64,860.79L634.48,860.90L635.31,861.01L636.15,861.13L636.99,861.24L637.82,861.35L638.66,861.47L639.50,861.58L640.33,861.69L641.17,861.81L642.01,861.92L642.01,861.92M662.21,864.72L662.31,864.73L663.14,864.85L663.98,864.97L664.82,865.08L665.66,865.20L666.49,865.32L667.33,865.44L668.17,865.56L669.01,865.68L669.84,865.80L670.68,865.92L671.52,866.04L672.35,866.16L673.19,866.28L674.03,866.40L674.87,866.52L675.70,866.64L676.51,866.76M696.71,869.77L696.75,869.78L697.58,869.91L698.42,870.04L699.26,870.16L700.10,870.29L700.93,870.42L701.77,870.55L702.61,870.68L703.45,870.81L704.28,870.94L705.12,871.07L705.96,871.20L706.80,871.34L707.63,871.47L708.47,871.60L709.31,871.73L710.15,871.86L710.98,871.99L711.01,872.00" fill="none" stroke="#0000ff" stroke-width="4.5" stroke-linecap="round" stroke-linejoin="round"/><path d="M110.97,737.21L111.06,737.27L111.81,737.70L112.55,738.14L113.30,738.57L114.05,739.01L114.80,739.44L115.55,739.87L116.30,740.30L117.04,740.73L117.79,741.15L118.54,741.58L119.29,742.00L120.05,742.43L120.80,742.85L121.55,743.27L122.30,743.69L123.05,744.11L123.80,744.53L124.27,744.78M144.47,755.49L144.54,755.53L145.30,755.92L146.07,756.30L146.83,756.69L147.59,757.07L148.36,757.45L149.12,757.83L149.88,758.21L150.65,758.59L151.41,758.97L152.18,759.35L152.95,759.72L153.71,760.10L154.48,760.47L155.24,760.84L156.01,761.21L156.78,761.58L157.55,761.95L158.31,762.32L158.77,762.54M178.97,771.79L178.98,771.79L179.76,772.13L180.53,772.47L181.31,772.81L182.09,773.15L182.87,773.48L183.65,773.82L184.42,774.15L185.20,774.49L185.98,774.82L186.76,775.15L187.54,775.48L188.32,775.81L189.10,776.14L189.88,776.47L190.66,776.79L191.45,777.12L192.23,777.44L193.01,777.77L193.27,777.87M213.47,785.86L213.54,785.89L214.33,786.19L215.12,786.49L215.91,786.78L216.71,787.08L217.50,787.38L218.29,787.67L219.08,787.96L219.87,788.26L220.66,788.55L221.46,788.84L222.25,789.13L223.04,789.42L223.83,789.71L224.63,789.99L225.42,790.28L226.21,790.56L227.01,790.85L227.77,791.12M247.97,798.03L248.05,798.05L248.85,798.32L249.66,798.58L250.46,798.84L251.26,799.10L252.06,799.36L252.86,799.61L253.67,799.87L254.47,800.13L255.27,800.38L256.08,800.64L256.88,800.89L257.68,801.14L258.49,801.40L259.29,801.65L260.10,801.90L260.90,802.15L261.71,802.40L262.27,802.57M282.47,808.55L282.53,808.56L283.34,808.79L284.15,809.02L284.96,809.25L285.77,809.48L286.58,809.70L287.40,809.93L288.21,810.16L289.02,810.38L289.84,810.61L290.65,810.83L291.46,811.05L292.28,811.27L293.09,811.49L293.91,811.71L294.72,811.93L295.53,812.15L296.35,812.37L296.77,812.48M316.97,817.67L316.99,817.67L317.81,817.87L318.63,818.07L319.46,818.28L320.28,818.47L321.10,818.67L321.92,818.87L322.74,819.07L323.56,819.27L324.38,819.46L325.21,819.66L326.03,819.86L326.85,820.05L327.67,820.24L328.49,820.44L329.32,820.63L330.14,820.82L330.96,821.02L331.27,821.09M351.47,825.60L351.50,825.60L352.33,825.78L353.15,825.96L353.98,826.13L354.81,826.31L355.64,826.49L356.47,826.66L357.30,826.83L358.13,827.01L358.95,827.18L359.78,827.35L360.61,827.53L361.44,827.70L362.27,827.87L363.10,828.04L363.93,828.21L364.76,828.38L365.59,828.55L365.77,828.58M385.97,832.54L385.98,832.54L386.82,832.70L387.65,832.85L388.49,833.01L389.32,833.17L390.15,833.32L390.99,833.48L391.82,833.63L392.66,833.78L393.49,833.94L394.33,834.09L395.16,834.24L396.00,834.40L396.84,834.55L397.67,834.70L398.51,834.85L399.34,835.00L400.18,835.15L400.27,835.17M420.47,838.67L420.49,838.67L421.33,838.81L422.17,838.95L423.01,839.09L423.85,839.23L424.69,839.37L425.53,839.51L426.37,839.65L427.21,839.79L428.05,839.92L428.89,840.06L429.73,840.20L430.57,840.33L431.41,840.47L432.25,840.61L433.09,840.74L433.93,840.88L434.77,841.01M454.97,844.15L454.98,844.15L455.83,844.28L456.67,844.41L457.51,844.53L458.36,844.66L459.20,844.78L460.04,844.91L460.89,845.03L461.73,845.16L462.58,845.28L463.42,845.41L464.26,845.53L465.11,845.65L465.95,845.78L466.80,845.90L467.64,846.02L468.48,846.14L469.27,846.26M489.47,849.08L489.51,849.09L490.35,849.20L491.20,849.32L492.05,849.43L492.89,849.54L493.74,849.66L494.58,849.77L495.43,849.88L496.28,850.00L497.12,850.11L497.97,850.22L498.82,850.33L499.66,850.44L500.51,850.55L501.36,850.66L502.20,850.78L503.05,850.89L503.77,850.98M523.97,853.52L524.02,853.53L524.87,853.63L525.72,853.74L526.56,853.84L527.41,853.94L528.26,854.05L529.11,854.15L529.95,854.25L530.80,854.35L531.65,854.45L532.50,854.56L533.35,854.66L534.19,854.76L535.04,854.86L535.89,854.96L536.74,855.06L537.59,855.16L538.27,855.24M558.47,857.54L558.47,857.54L559.32,857.63L560.17,857.73L561.02,857.82L561.87,857.91L562.72,858.01L563.56,858.10L564.41,858.19L565.26,858.29L566.11,858.38L566.96,858.47L567.81,858.56L568.65,858.65L569.50,858.74L570.35,858.83L571.20,858.93L572.05,859.02L572.77,859.09M592.97,861.19L593.04,861.19L593.88,861.28L594.73,861.36L595.58,861.45L596.43,861.53L597.28,861.62L598.12,861.70L598.97,861.79L599.82,861.87L600.67,861.95L601.51,862.04L602.36,862.12L603.21,862.21L604.06,862.29L604.90,862.37L605.75,862.45L606.60,862.54L607.27,862.60M627.47,864.52L627.56,864.53L628.40,864.60L629.25,864.68L630.10,864.76L630.94,864.84L631.79,864.92L632.63,864.99L633.48,865.07L634.32,865.15L635.17,865.22L636.02,865.30L636.86,865.38L637.71,865.45L638.55,865.53L639.40,865.61L640.24,865.68L641.09,865.76L641.77,865.82M661.97,867.59L661.99,867.59L662.83,867.66L663.68,867.74L664.52,867.81L665.36,867.88L666.21,867.95L667.05,868.02L667.89,868.10L668.74,868.17L669.58,868.24L670.42,868.31L671.26,868.38L672.11,868.45L672.95,868.52L673.79,868.59L674.63,868.66L675.48,868.73L676.27,868.80M696.47,870.46L696.50,870.46L697.34,870.53L698.18,870.60L699.02,870.66L699.86,870.73L700.70,870.80L701.54,870.86L702.37,870.93L703.21,871.00L704.05,871.07L704.89,871.13L705.73,871.20L706.57,871.27L707.41,871.33L708.24,871.40L709.08,871.46L709.92,871.53L710.76,871.60L710.77,871.60" fill="none" stroke="#008000" stroke-width="4.5" stroke-linecap="round" stroke-linejoin="round"/><path d="M111.01,681.40L111.11,681.44L111.90,681.77L112.70,682.09L113.50,682.42L114.29,682.75L115.09,683.07L115.89,683.40L116.69,683.72L117.48,684.04L118.28,684.37L119.08,684.69L119.87,685.01L120.67,685.34L121.47,685.66L122.26,685.98L123.06,686.30L123.86,686.63L124.66,686.95L125.45,687.27L126.25,687.59L127.05,687.91L127.85,688.23L128.65,688.55L129.44,688.87L130.24,689.19L131.04,689.51L131.84,689.83L132.64,690.15L133.43,690.46L134.23,690.78L135.03,691.10L135.83,691.42L136.63,691.73L137.43,692.05L138.22,692.37L139.02,692.69L139.82,693.00L140.62,693.32L141.42,693.63L142.22,693.95L143.02,694.26L143.82,694.58L144.61,694.90L145.41,695.21L146.21,695.52L147.01,695.84L147.81,696.15L148.61,696.47L149.41,696.78L150.21,697.09L151.01,697.41L151.81,697.72L152.61,698.03L153.41,698.35L154.21,698.66L155.01,698.97L155.81,699.28L156.61,699.59L157.41,699.91L158.21,700.22L159.01,700.53L159.81,700.84L160.61,701.15L161.41,701.46L162.21,701.77L163.01,702.08L163.81,702.39L164.61,702.70L165.41,703.01L166.21,703.32L167.01,703.63L167.81,703.94L168.62,704.25L169.42,704.56L170.22,704.87L171.02,705.18L171.82,705.48L172.62,705.79L173.42,706.10L174.22,706.41L175.03,706.72L175.83,707.02L176.63,707.33L177.43,707.64L178.23,707.95L179.03,708.25L179.84,708.56L180.64,708.87L181.44,709.18L182.24,709.48L183.04,709.79L183.85,710.10L184.65,710.40L185.45,710.71L186.25,711.01L187.06,711.32L187.86,711.63L188.66,711.93L189.46,712.24L190.27,712.54L191.07,712.85L191.87,713.15L192.67,713.46L193.48,713.77L194.28,714.07L195.08,714.38L195.89,714.68L196.69,714.99L197.49,715.29L198.30,715.60L199.10,715.90L199.90,716.21L200.71,716.51L201.51,716.81L202.31,717.12L203.12,717.42L203.92,717.73L204.73,718.03L205.53,718.34L206.33,718.64L207.14,718.94L207.94,719.25L208.75,719.55L209.55,719.86L210.35,720.16L211.16,720.47L211.96,720.77L212.77,721.07L213.57,721.38L214.38,721.68L215.18,721.98L215.99,722.29L216.79,722.59L217.60,722.90L218.40,723.20L219.21,723.50L220.01,723.81L220.82,724.11L221.62,724.41L222.43,724.72L223.23,725.02L224.04,725.33L224.84,725.63L225.65,725.93L226.45,726.24L227.26,726.54L228.07,726.84L228.87,727.15L229.68,727.45L230.48,727.76L231.29,728.06L232.10,728.36L232.90,728.67L233.71,728.97L234.51,729.27L235.32,729.58L236.13,729.88L236.93,730.19L237.74,730.49L238.55,730.79L239.35,731.10L240.16,731.40L240.97,731.71L241.77,732.01L242.58,732.32L243.39,732.62L244.19,732.92L245.00,733.23L245.81,733.53L246.62,733.84L247.42,734.14L248.23,734.45L249.04,734.75L249.85,735.06L250.65,735.36L251.46,735.67L252.27,735.97L253.08,736.28L253.88,736.58L254.69,736.89L255.50,737.19L256.31,737.50L257.12,737.81L257.93,738.11L258.73,738.42L259.54,738.72L260.35,739.03L261.16,739.34L261.97,739.64L262.78,739.95L263.58,740.25L264.39,740.56L265.20,740.87L266.01,741.17L266.82,741.48L267.63,741.79L268.44,742.09L269.25,742.40L270.06,742.71L270.87,743.01L271.68,743.32L272.48,743.63L273.29,743.93L274.10,744.24L274.91,744.55L275.72,744.85L276.53,745.16L277.34,745.47L278.15,745.77L278.96,746.08L279.77,746.39L280.58,746.69L281.39,747.00L282.20,747.30L283.01,747.61L283.82,747.92L284.63,748.22L285.44,748.53L286.26,748.83L287.07,749.14L287.88,749.44L288.69,749.75L289.50,750.05L290.31,750.36L291.12,750.66L291.93,750.97L292.74,751.27L293.55,751.57L294.36,751.88L295.18,752.18L295.99,752.48L296.80,752.79L297.61,753.09L298.42,753.39L299.23,753.69L300.05,754.00L300.86,754.30L301.67,754.60L302.48,754.90L303.29,755.20L304.11,755.50L304.92,755.80L305.73,756.10L306.54,756.40L307.35,756.70L308.17,757.00L308.98,757.30L309.79,757.60L310.60,757.90L311.42,758.19L312.23,758.49L313.04,758.79L313.86,759.08L314.67,759.38L315.48,759.68L316.29,759.97L317.11,760.27L317.92,760.56L318.73,760.85L319.55,761.15L320.36,761.44L321.17,761.73L321.99,762.03L322.80,762.32L323.62,762.61L324.43,762.90L325.24,763.19L326.06,763.48L326.87,763.77L327.69,764.06L328.50,764.35L329.31,764.63L330.13,764.92L330.94,765.21L331.76,765.49L332.57,765.78L333.39,766.06L334.20,766.35L335.02,766.63L335.83,766.92L336.65,767.20L337.46,767.48L338.28,767.77L339.09,768.05L339.91,768.33L340.72,768.61L341.54,768.89L342.35,769.17L343.17,769.45L343.98,769.73L344.80,770.01L345.61,770.28L346.43,770.56L347.24,770.84L348.06,771.12L348.88,771.39L349.69,771.67L350.51,771.94L351.32,772.22L352.14,772.49L352.96,772.77L353.77,773.04L354.59,773.31L355.41,773.58L356.22,773.86L357.04,774.13L357.86,774.40L358.67,774.67L359.49,774.94L360.31,775.21L361.12,775.48L361.94,775.75L362.76,776.02L363.57,776.29L364.39,776.56L365.21,776.82L366.03,777.09L366.84,777.36L367.66,777.62L368.48,777.89L369.30,778.15L370.11,778.42L370.93,778.68L371.75,778.95L372.57,779.21L373.39,779.48L374.20,779.74L375.02,780.00L375.84,780.26L376.66,780.53L377.48,780.79L378.30,781.05L379.11,781.31L379.93,781.57L380.75,781.83L381.57,782.09L382.39,782.35L383.21,782.61L384.03,782.87L384.85,783.13L385.66,783.39L386.48,783.64L387.30,783.90L388.12,784.16L388.94,784.42L389.76,784.67L390.58,784.93L391.40,785.18L392.22,785.44L393.04,785.70L393.86,785.95L394.68,786.20L395.50,786.46L396.32,786.71L397.14,786.97L397.96,787.22L398.78,787.47L399.60,787.73L400.42,787.98L401.24,788.23L402.06,788.48L402.88,788.74L403.70,788.99L404.52,789.24L405.34,789.49L406.17,789.74L406.99,789.99L407.81,790.24L408.63,790.49L409.45,790.74L410.27,790.99L411.09,791.24L411.91,791.49L412.74,791.73L413.56,791.98L414.38,792.23L415.20,792.48L416.02,792.73L416.84,792.97L417.67,793.22L418.49,793.47L419.31,793.71L420.13,793.96L420.95,794.21L421.78,794.45L422.60,794.70L423.42,794.95L424.24,795.19L425.07,795.44L425.89,795.68L426.71,795.93L427.53,796.17L428.36,796.41L429.18,796.66L430.00,796.90L430.83,797.15L431.65,797.39L432.47,797.63L433.30,797.88L434.12,798.12L434.94,798.36L435.77,798.61L436.59,798.85L437.41,799.09L438.24,799.33L439.06,799.58L439.88,799.82L440.71,800.06L441.53,800.30L442.36,800.54L443.18,800.78L444.00,801.02L444.83,801.27L445.65,801.51L446.48,801.75L447.30,801.99L448.13,802.23L448.95,802.47L449.78,802.71L450.60,802.95L451.43,803.19L452.25,803.43L453.08,803.67L453.90,803.91L454.73,804.14L455.55,804.38L456.38,804.62L457.20,804.86L458.03,805.10L458.85,805.34L459.68,805.57L460.50,805.81L461.33,806.05L462.16,806.29L462.98,806.52L463.81,806.76L464.63,807.00L465.46,807.24L466.29,807.47L467.11,807.71L467.94,807.94L468.77,808.18L469.59,808.42L470.42,808.65L471.25,808.89L472.07,809.12L472.90,809.36L473.73,809.59L474.55,809.83L475.38,810.06L476.21,810.30L477.03,810.53L477.86,810.76L478.69,811.00L479.52,811.23L480.34,811.46L481.17,811.70L482.00,811.93L482.83,812.16L483.65,812.39L484.48,812.63L485.31,812.86L486.14,813.09L486.97,813.32L487.79,813.55L488.62,813.79L489.45,814.02L490.28,814.25L491.11,814.48L491.94,814.71L492.77,814.94L493.59,815.17L494.42,815.40L495.25,815.63L496.08,815.86L496.91,816.09L497.74,816.32L498.57,816.54L499.40,816.77L500.23,817.00L501.06,817.23L501.88,817.46L502.71,817.69L503.54,817.91L504.37,818.14L505.20,818.37L506.03,818.59L506.86,818.82L507.69,819.05L508.52,819.27L509.35,819.50L510.18,819.73L511.01,819.95L511.84,820.18L512.67,820.40L513.50,820.63L514.34,820.85L515.17,821.08L516.00,821.30L516.83,821.52L517.66,821.75L518.49,821.97L519.32,822.19L520.15,822.42L520.98,822.64L521.81,822.86L522.65,823.08L523.48,823.31L524.31,823.53L525.14,823.75L525.97,823.97L526.80,824.19L527.63,824.41L528.47,824.63L529.30,824.86L530.13,825.08L530.96,825.30L531.80,825.52L532.63,825.73L533.46,825.95L534.29,826.17L535.12,826.39L535.96,826.61L536.79,826.83L537.62,827.05L538.46,827.26L539.29,827.48L540.12,827.70L540.95,827.92L541.79,828.13L542.62,828.35L543.45,828.57L544.29,828.78L545.12,829.00L545.95,829.21L546.79,829.43L547.62,829.64L548.45,829.86L549.29,830.07L550.12,830.29L550.96,830.50L551.79,830.71L552.62,830.93L553.46,831.14L554.29,831.35L555.13,831.57L555.96,831.78L556.80,831.99L557.63,832.20L558.47,832.41L559.30,832.63L560.13,832.84L560.97,833.05L561.80,833.26L562.64,833.47L563.47,833.68L564.31,833.89L565.14,834.10L565.98,834.31L566.82,834.52L567.65,834.72L568.49,834.93L569.32,835.14L570.16,835.35L570.99,835.56L571.83,835.76L572.67,835.97L573.50,836.18L574.34,836.38L575.17,836.59L576.01,836.80L576.85,837.00L577.68,837.21L578.52,837.41L579.36,837.62L580.19,837.82L581.03,838.03L581.87,838.23L582.70,838.43L583.54,838.64L584.38,838.84L585.21,839.04L586.05,839.24L586.89,839.45L587.73,839.65L588.56,839.85L589.40,840.05L590.24,840.25L591.08,840.45L591.91,840.65L592.75,840.85L593.59,841.05L594.43,841.25L595.27,841.45L596.10,841.65L596.94,841.85L597.78,842.05L598.62,842.25L599.46,842.44L600.30,842.64L601.13,842.84L601.97,843.03L602.81,843.23L603.65,843.43L604.49,843.62L605.33,843.82L606.17,844.01L607.01,844.21L607.85,844.40L608.69,844.60L609.53,844.79L610.36,844.99L611.20,845.18L612.04,845.37L612.88,845.57L613.72,845.76L614.56,845.95L615.40,846.14L616.24,846.33L617.08,846.52L617.92,846.72L618.76,846.91L619.60,847.10L620.44,847.29L621.29,847.48L622.13,847.66L622.97,847.85L623.81,848.04L624.65,848.23L625.49,848.42L626.33,848.61L627.17,848.79L628.01,848.98L628.85,849.17L629.69,849.35L630.54,849.54L631.38,849.73L632.22,849.91L633.06,850.10L633.90,850.28L634.74,850.46L635.59,850.65L636.43,850.83L637.27,851.02L638.11,851.20L638.95,851.38L639.80,851.56L640.64,851.75L641.48,851.93L642.32,852.11L643.17,852.29L644.01,852.47L644.85,852.65L645.69,852.83L646.54,853.01L647.38,853.19L648.22,853.37L649.07,853.55L649.91,853.73L650.75,853.90L651.60,854.08L652.44,854.26L653.28,854.43L654.13,854.61L654.97,854.79L655.81,854.96L656.66,855.14L657.50,855.31L658.35,855.49L659.19,855.66L660.03,855.84L660.88,856.01L661.72,856.18L662.57,856.36L663.41,856.53L664.26,856.70L665.10,856.87L665.95,857.05L666.79,857.22L667.64,857.39L668.48,857.56L669.33,857.73L670.17,857.90L671.02,858.07L671.86,858.24L672.71,858.40L673.55,858.57L674.40,858.74L675.24,858.91L676.09,859.07L676.94,859.24L677.78,859.41L678.63,859.57L679.47,859.74L680.32,859.90L681.17,860.07L682.01,860.23L682.86,860.40L683.71,860.56L684.55,860.73L685.40,860.89L686.25,861.05L687.09,861.21L687.94,861.38L688.79,861.54L689.63,861.70L690.48,861.86L691.33,862.02L692.17,862.18L693.02,862.34L693.87,862.50L694.72,862.66L695.56,862.81L696.41,862.97L697.26,863.13L698.11,863.29L698.96,863.44L699.80,863.60L700.65,863.76L701.50,863.91L702.35,864.07L703.20,864.22L704.05,864.38L704.89,864.53L705.74,864.69L706.59,864.84L707.44,864.99L708.29,865.14L709.14,865.30L709.99,865.45L710.84,865.60L711.68,865.75L712.53,865.90L713.38,866.05L714.23,866.20L715.08,866.35L715.93,866.50L716.78,866.65L717.63,866.80L718.48,866.94L719.33,867.09L720.18,867.24L721.03,867.38L721.88,867.53L722.73,867.68L723.58,867.82L724.43,867.97L725.28,868.11L726.13,868.25L726.98,868.40L727.62,868.50" fill="none" stroke="#ff0000" stroke-width="4.5" stroke-linecap="round" stroke-linejoin="round"/><path d="M110.99,681.60L111.08,681.66L111.80,682.16L112.51,682.67L113.23,683.17L113.94,683.68L114.66,684.18L115.37,684.68L116.09,685.18L116.81,685.68L117.53,686.18L118.24,686.68L118.96,687.18L119.68,687.68L120.40,688.18L121.12,688.67L121.84,689.17L122.56,689.66L123.29,690.15L124.01,690.65L124.73,691.14L125.45,691.63L126.18,692.12L126.90,692.61L127.63,693.10L128.35,693.58L129.08,694.07L129.80,694.56L130.53,695.04L131.25,695.53L131.98,696.01L132.71,696.49L133.44,696.98L134.17,697.46L134.90,697.94L135.63,698.42L136.36,698.90L137.09,699.38L137.82,699.85L138.55,700.33L139.28,700.81L140.01,701.28L140.75,701.76L141.48,702.23L142.21,702.70L142.95,703.17L143.68,703.65L144.42,704.12L145.15,704.59L145.89,705.05L146.62,705.52L147.36,705.99L148.10,706.46L148.84,706.92L149.57,707.39L150.31,707.85L151.05,708.32L151.79,708.78L152.53,709.24L153.27,709.70L154.01,710.16L154.75,710.62L155.50,711.08L156.24,711.54L156.98,711.99L157.72,712.45L158.47,712.91L159.21,713.36L159.96,713.82L160.70,714.27L161.45,714.72L162.19,715.17L162.94,715.62L163.68,716.07L164.43,716.52L165.18,716.97L165.93,717.42L166.67,717.87L167.42,718.31L168.17,718.76L168.92,719.20L169.67,719.65L170.42,720.09L171.17,720.53L171.92,720.98L172.68,721.42L173.43,721.86L174.18,722.30L174.93,722.73L175.69,723.17L176.44,723.61L177.20,724.05L177.95,724.48L178.71,724.92L179.46,725.35L180.22,725.78L180.97,726.22L181.73,726.65L182.49,727.08L183.24,727.51L184.00,727.94L184.76,728.37L185.52,728.79L186.28,729.22L187.04,729.65L187.80,730.07L188.56,730.50L189.32,730.92L190.08,731.35L190.84,731.77L191.60,732.19L192.37,732.61L193.13,733.03L193.89,733.45L194.66,733.87L195.42,734.29L196.18,734.70L196.95,735.12L197.71,735.54L198.48,735.95L199.25,736.37L200.01,736.78L200.78,737.19L201.55,737.60L202.31,738.01L203.08,738.42L203.85,738.83L204.62,739.24L205.39,739.65L206.16,740.06L206.93,740.47L207.70,740.87L208.47,741.28L209.24,741.68L210.01,742.08L210.78,742.49L211.55,742.89L212.33,743.29L213.10,743.69L213.87,744.09L214.65,744.49L215.42,744.89L216.19,745.28L216.97,745.68L217.74,746.08L218.52,746.47L219.30,746.87L220.07,747.26L220.85,747.65L221.63,748.05L222.40,748.44L223.18,748.83L223.96,749.22L224.74,749.61L225.52,750.00L226.30,750.38L227.08,750.77L227.86,751.16L228.64,751.54L229.42,751.93L230.20,752.31L230.98,752.69L231.76,753.08L232.54,753.46L233.33,753.84L234.11,754.22L234.89,754.60L235.68,754.98L236.46,755.36L237.24,755.73L238.03,756.11L238.81,756.49L239.60,756.86L240.38,757.24L241.17,757.61L241.96,757.98L242.74,758.35L243.53,758.73L244.32,759.10L245.11,759.47L245.89,759.84L246.68,760.20L247.47,760.57L248.26,760.94L249.05,761.30L249.84,761.67L250.63,762.03L251.42,762.40L252.21,762.76L253.00,763.12L253.80,763.49L254.59,763.85L255.38,764.21L256.17,764.57L256.97,764.93L257.76,765.28L258.55,765.64L259.35,766.00L260.14,766.35L260.94,766.71L261.73,767.06L262.53,767.42L263.32,767.77L264.12,768.12L264.91,768.47L265.71,768.82L266.51,769.17L267.30,769.52L268.10,769.87L268.90,770.22L269.70,770.57L270.50,770.91L271.29,771.26L272.09,771.60L272.89,771.95L273.69,772.29L274.49,772.63L275.29,772.97L276.09,773.32L276.90,773.66L277.70,774.00L278.50,774.34L279.30,774.67L280.10,775.01L280.91,775.35L281.71,775.68L282.51,776.02L283.32,776.35L284.12,776.69L284.92,777.02L285.73,777.35L286.53,777.69L287.34,778.02L288.14,778.35L288.95,778.68L289.76,779.01L290.56,779.33L291.37,779.66L292.18,779.99L292.98,780.31L293.79,780.64L294.60,780.96L295.41,781.29L296.21,781.61L297.02,781.93L297.83,782.25L298.64,782.58L299.45,782.90L300.26,783.22L301.07,783.53L301.88,783.85L302.69,784.17L303.50,784.49L304.31,784.80L305.13,785.12L305.94,785.43L306.75,785.75L307.56,786.06L308.38,786.37L309.19,786.68L310.00,786.99L310.82,787.30L311.63,787.61L312.44,787.92L313.26,788.23L314.07,788.54L314.89,788.84L315.70,789.15L316.52,789.46L317.33,789.76L318.15,790.06L318.97,790.37L319.78,790.67L320.60,790.97L321.42,791.27L322.24,791.57L323.05,791.87L323.87,792.17L324.69,792.47L325.51,792.77L326.33,793.06L327.15,793.36L327.97,793.65L328.79,793.95L329.61,794.24L330.43,794.53L331.25,794.83L332.07,795.12L332.89,795.41L333.71,795.70L334.53,795.99L335.35,796.28L336.17,796.57L337.00,796.85L337.82,797.14L338.64,797.43L339.46,797.71L340.29,798.00L341.11,798.28L341.93,798.56L342.76,798.85L343.58,799.13L344.41,799.41L345.23,799.69L346.06,799.97L346.88,800.25L347.71,800.53L348.53,800.81L349.36,801.08L350.19,801.36L351.01,801.63L351.84,801.91L352.67,802.18L353.49,802.46L354.32,802.73L355.15,803.00L355.98,803.27L356.80,803.54L357.63,803.81L358.46,804.08L359.29,804.35L360.12,804.62L360.95,804.89L361.78,805.15L362.61,805.42L363.44,805.68L364.27,805.95L365.10,806.21L365.93,806.48L366.76,806.74L367.59,807.00L368.42,807.26L369.26,807.52L370.09,807.78L370.92,808.04L371.75,808.30L372.58,808.56L373.42,808.81L374.25,809.07L375.08,809.32L375.92,809.58L376.75,809.83L377.58,810.09L378.42,810.34L379.25,810.59L380.09,810.84L380.92,811.09L381.76,811.34L382.59,811.59L383.43,811.84L384.26,812.09L385.10,812.34L385.93,812.58L386.77,812.83L387.61,813.07L388.44,813.32L389.28,813.56L390.12,813.80L390.96,814.05L391.79,814.29L392.63,814.53L393.47,814.77L394.31,815.01L395.14,815.25L395.98,815.49L396.82,815.72L397.66,815.96L398.50,816.20L399.34,816.43L400.18,816.67L401.02,816.90L401.86,817.14L402.70,817.37L403.54,817.60L404.38,817.83L405.22,818.06L406.06,818.29L406.90,818.52L407.74,818.75L408.58,818.98L409.42,819.21L410.27,819.43L411.11,819.66L411.95,819.89L412.79,820.11L413.64,820.33L414.48,820.56L415.32,820.78L416.16,821.00L417.01,821.22L417.85,821.44L418.69,821.66L419.54,821.88L420.38,822.10L421.23,822.32L422.07,822.54L422.91,822.75L423.76,822.97L424.60,823.19L425.45,823.40L426.29,823.61L427.14,823.83L427.98,824.04L428.83,824.25L429.68,824.46L430.52,824.67L431.37,824.88L432.21,825.09L433.06,825.30L433.91,825.51L434.75,825.72L435.60,825.93L436.45,826.13L437.30,826.34L438.14,826.54L438.99,826.75L439.84,826.95L440.69,827.15L441.53,827.35L442.38,827.56L443.23,827.76L444.08,827.96L444.93,828.16L445.78,828.36L446.63,828.56L447.48,828.75L448.33,828.95L449.17,829.15L450.02,829.34L450.87,829.54L451.72,829.73L452.57,829.93L453.42,830.12L454.27,830.32L455.13,830.51L455.98,830.70L456.83,830.89L457.68,831.08L458.53,831.27L459.38,831.46L460.23,831.65L461.08,831.84L461.93,832.03L462.79,832.21L463.64,832.40L464.49,832.59L465.34,832.77L466.19,832.96L467.05,833.14L467.90,833.32L468.75,833.51L469.61,833.69L470.46,833.87L471.31,834.05L472.16,834.24L473.02,834.42L473.87,834.60L474.73,834.77L475.58,834.95L476.43,835.13L477.29,835.31L478.14,835.49L479.00,835.66L479.85,835.84L480.70,836.01L481.56,836.19L482.41,836.36L483.27,836.54L484.12,836.71L484.98,836.88L485.83,837.06L486.69,837.23L487.54,837.40L488.40,837.57L489.26,837.74L490.11,837.91L490.97,838.08L491.82,838.25L492.68,838.42L493.54,838.58L494.39,838.75L495.25,838.92L496.10,839.08L496.96,839.25L497.82,839.41L498.68,839.58L499.53,839.74L500.39,839.91L501.25,840.07L502.10,840.23L502.96,840.39L503.82,840.56L504.68,840.72L505.53,840.88L506.39,841.04L507.25,841.20L508.11,841.36L508.97,841.51L509.82,841.67L510.68,841.83L511.54,841.99L512.40,842.15L513.26,842.30L514.12,842.46L514.97,842.61L515.83,842.77L516.69,842.92L517.55,843.08L518.41,843.23L519.27,843.38L520.13,843.54L520.99,843.69L521.85,843.84L522.71,843.99L523.57,844.14L524.43,844.29L525.28,844.44L526.14,844.59L527.00,844.74L527.86,844.89L528.72,845.04L529.58,845.18L530.44,845.33L531.30,845.48L532.17,845.62L533.03,845.77L533.89,845.92L534.75,846.06L535.61,846.21L536.47,846.35L537.33,846.49L538.19,846.64L539.05,846.78L539.91,846.92L540.77,847.06L541.63,847.20L542.49,847.35L543.36,847.49L544.22,847.63L545.08,847.77L545.94,847.91L546.80,848.04L547.66,848.18L548.52,848.32L549.39,848.46L550.25,848.60L551.11,848.73L551.97,848.87L552.83,849.00L553.69,849.14L554.56,849.28L555.42,849.41L556.28,849.54L557.14,849.68L558.00,849.81L558.87,849.95L559.73,850.08L560.59,850.21L561.45,850.34L562.32,850.47L563.18,850.61L564.04,850.74L564.90,850.87L565.77,851.00L566.63,851.13L567.49,851.25L568.35,851.38L569.22,851.51L570.08,851.64L570.94,851.77L571.80,851.89L572.67,852.02L573.53,852.15L574.39,852.27L575.26,852.40L576.12,852.53L576.98,852.65L577.84,852.77L578.71,852.90L579.57,853.02L580.43,853.15L581.30,853.27L582.16,853.39L583.02,853.51L583.89,853.64L584.75,853.76L585.61,853.88L586.48,854.00L587.34,854.12L588.20,854.24L589.07,854.36L589.93,854.48L590.79,854.60L591.66,854.72L592.52,854.84L593.38,854.96L594.25,855.07L595.11,855.19L595.97,855.31L596.84,855.43L597.70,855.54L598.57,855.66L599.43,855.78L600.29,855.89L601.16,856.01L602.02,856.12L602.88,856.24L603.75,856.36L604.61,856.47L605.47,856.59L606.34,856.70L607.20,856.82L608.06,856.93L608.93,857.05L609.79,857.16L610.66,857.28L611.52,857.39L612.38,857.50L613.25,857.62L614.11,857.73L614.97,857.85L615.84,857.96L616.70,858.08L617.56,858.19L618.43,858.31L619.29,858.42L620.16,858.53L621.02,858.65L621.88,858.76L622.75,858.88L623.61,858.99L624.47,859.11L625.34,859.22L626.20,859.34L627.06,859.45L627.93,859.57L628.79,859.68L629.65,859.80L630.52,859.92L631.38,860.03L632.24,860.15L633.11,860.26L633.97,860.38L634.83,860.50L635.70,860.61L636.56,860.73L637.42,860.85L638.29,860.97L639.15,861.08L640.01,861.20L640.88,861.32L641.74,861.44L642.60,861.56L643.47,861.68L644.33,861.80L645.19,861.92L646.06,862.04L646.92,862.16L647.78,862.28L648.64,862.40L649.51,862.52L650.37,862.65L651.23,862.77L652.10,862.89L652.96,863.02L653.82,863.14L654.68,863.26L655.55,863.39L656.41,863.52L657.27,863.64L658.13,863.77L659.00,863.89L659.86,864.02L660.72,864.15L661.58,864.28L662.45,864.41L663.31,864.54L664.17,864.67L665.03,864.80L665.89,864.93L666.76,865.06L667.62,865.19L668.48,865.33L669.34,865.46L670.20,865.60L671.07,865.73L671.93,865.87L672.79,866.00L673.65,866.14L674.51,866.28L675.37,866.42L676.23,866.56L677.10,866.70L677.96,866.84L678.82,866.98L679.68,867.12L680.54,867.27L681.40,867.41L682.26,867.55L683.12,867.70L683.98,867.84L684.85,867.99L685.71,868.13L686.57,868.28L687.43,868.43L688.29,868.57L689.15,868.72L690.01,868.86L690.87,869.01L691.73,869.16L692.59,869.30L693.45,869.45L694.31,869.60L695.17,869.74L696.03,869.89L696.89,870.03L697.75,870.18L698.61,870.32L699.47,870.47L700.33,870.61L701.19,870.75L702.04,870.89L702.90,871.03L703.76,871.17L704.62,871.31L705.48,871.45L706.34,871.59L707.20,871.73L708.06,871.86L708.92,872.00L709.77,872.13L710.63,872.26L711.49,872.39L712.35,872.52L713.21,872.65L714.07,872.78L714.92,872.90L715.78,873.03L716.64,873.15L717.50,873.27L718.35,873.39L719.21,873.51L720.07,873.62L720.93,873.73L721.78,873.85L722.64,873.96L723.50,874.06L724.35,874.17L725.21,874.27L726.07,874.37L726.92,874.47L727.57,874.54" fill="none" stroke="#0000ff" stroke-width="4.5" stroke-linecap="round" stroke-linejoin="round"/><path d="M110.95,682.00L111.01,682.09L111.57,682.82L112.12,683.54L112.67,684.26L113.23,684.98L113.79,685.69L114.35,686.41L114.91,687.12L115.47,687.83L116.04,688.53L116.61,689.24L117.18,689.94L117.75,690.64L118.32,691.34L118.90,692.03L119.47,692.73L120.05,693.42L120.63,694.10L121.21,694.79L121.80,695.47L122.38,696.15L122.97,696.83L123.56,697.51L124.15,698.18L124.75,698.85L125.34,699.52L125.94,700.19L126.54,700.86L127.14,701.52L127.74,702.18L128.34,702.84L128.95,703.49L129.55,704.15L130.16,704.80L130.77,705.45L131.39,706.10L132.00,706.74L132.61,707.38L133.23,708.02L133.85,708.66L134.47,709.30L135.09,709.93L135.72,710.56L136.34,711.19L136.97,711.82L137.60,712.45L138.23,713.07L138.86,713.69L139.50,714.31L140.13,714.93L140.77,715.54L141.41,716.15L142.05,716.76L142.69,717.37L143.33,717.98L143.98,718.58L144.62,719.18L145.27,719.78L145.92,720.38L146.57,720.97L147.22,721.57L147.88,722.16L148.53,722.75L149.19,723.33L149.85,723.92L150.51,724.50L151.17,725.08L151.83,725.66L152.50,726.24L153.16,726.81L153.83,727.38L154.50,727.96L155.17,728.52L155.84,729.09L156.52,729.65L157.19,730.22L157.87,730.78L158.55,731.34L159.22,731.89L159.91,732.45L160.59,733.00L161.27,733.55L161.95,734.10L162.64,734.64L163.33,735.19L164.02,735.73L164.71,736.27L165.40,736.81L166.09,737.35L166.79,737.88L167.48,738.41L168.18,738.94L168.88,739.47L169.58,740.00L170.28,740.53L170.98,741.05L171.68,741.57L172.39,742.09L173.09,742.61L173.80,743.12L174.51,743.64L175.22,744.15L175.93,744.66L176.64,745.16L177.36,745.67L178.07,746.17L178.79,746.68L179.51,747.18L180.22,747.68L180.94,748.17L181.66,748.67L182.39,749.16L183.11,749.65L183.83,750.14L184.56,750.63L185.29,751.11L186.02,751.60L186.74,752.08L187.47,752.56L188.21,753.04L188.94,753.52L189.67,753.99L190.41,754.46L191.14,754.94L191.88,755.41L192.62,755.87L193.36,756.34L194.10,756.80L194.84,757.27L195.58,757.73L196.33,758.19L197.07,758.64L197.82,759.10L198.56,759.55L199.31,760.01L200.06,760.46L200.81,760.91L201.56,761.35L202.31,761.80L203.07,762.24L203.82,762.68L204.58,763.12L205.33,763.56L206.09,764.00L206.85,764.44L207.61,764.87L208.37,765.30L209.13,765.73L209.89,766.16L210.65,766.59L211.42,767.01L212.18,767.44L212.95,767.86L213.71,768.28L214.48,768.70L215.25,769.11L216.02,769.53L216.79,769.94L217.56,770.36L218.33,770.77L219.11,771.18L219.88,771.59L220.65,771.99L221.43,772.40L222.21,772.80L222.98,773.20L223.76,773.60L224.54,774.00L225.32,774.40L226.10,774.79L226.88,775.18L227.66,775.58L228.45,775.97L229.23,776.36L230.02,776.74L230.80,777.13L231.59,777.51L232.38,777.90L233.16,778.28L233.95,778.66L234.74,779.04L235.53,779.42L236.32,779.79L237.12,780.17L237.91,780.54L238.70,780.91L239.50,781.28L240.29,781.65L241.09,782.01L241.89,782.38L242.68,782.74L243.48,783.11L244.28,783.47L245.08,783.83L245.88,784.19L246.68,784.54L247.49,784.90L248.29,785.25L249.09,785.61L249.90,785.96L250.70,786.31L251.51,786.66L252.31,787.00L253.12,787.35L253.93,787.69L254.74,788.04L255.55,788.38L256.36,788.72L257.17,789.06L257.98,789.40L258.79,789.73L259.60,790.07L260.42,790.40L261.23,790.73L262.05,791.06L262.86,791.39L263.68,791.72L264.49,792.05L265.31,792.38L266.13,792.70L266.95,793.02L267.77,793.35L268.59,793.67L269.41,793.99L270.23,794.30L271.05,794.62L271.87,794.94L272.70,795.25L273.52,795.57L274.35,795.88L275.17,796.19L276.00,796.50L276.82,796.81L277.65,797.11L278.48,797.42L279.30,797.72L280.13,798.03L280.96,798.33L281.79,798.63L282.62,798.93L283.45,799.23L284.28,799.53L285.12,799.82L285.95,800.12L286.78,800.41L287.62,800.71L288.45,801.00L289.28,801.29L290.12,801.58L290.96,801.87L291.79,802.15L292.63,802.44L293.47,802.73L294.30,803.01L295.14,803.29L295.98,803.57L296.82,803.85L297.66,804.13L298.50,804.41L299.34,804.69L300.18,804.97L301.02,805.24L301.87,805.52L302.71,805.79L303.55,806.06L304.40,806.33L305.24,806.60L306.08,806.87L306.93,807.14L307.78,807.41L308.62,807.67L309.47,807.94L310.31,808.20L311.16,808.46L312.01,808.72L312.86,808.98L313.71,809.24L314.55,809.50L315.40,809.76L316.25,810.02L317.10,810.27L317.95,810.53L318.81,810.78L319.66,811.03L320.51,811.29L321.36,811.54L322.21,811.79L323.07,812.04L323.92,812.28L324.77,812.53L325.63,812.78L326.48,813.02L327.34,813.27L328.19,813.51L329.05,813.75L329.90,814.00L330.76,814.24L331.62,814.48L332.47,814.72L333.33,814.95L334.19,815.19L335.05,815.43L335.90,815.66L336.76,815.90L337.62,816.13L338.48,816.36L339.34,816.60L340.20,816.83L341.06,817.06L341.92,817.29L342.78,817.52L343.64,817.74L344.50,817.97L345.36,818.20L346.22,818.42L347.09,818.65L347.95,818.87L348.81,819.10L349.67,819.32L350.54,819.54L351.40,819.76L352.26,819.98L353.13,820.20L353.99,820.42L354.85,820.64L355.72,820.85L356.58,821.07L357.45,821.29L358.31,821.50L359.18,821.71L360.04,821.93L360.91,822.14L361.78,822.35L362.64,822.56L363.51,822.77L364.37,822.98L365.24,823.19L366.11,823.40L366.97,823.61L367.84,823.82L368.71,824.02L369.58,824.23L370.44,824.43L371.31,824.64L372.18,824.84L373.05,825.05L373.92,825.25L374.78,825.45L375.65,825.65L376.52,825.85L377.39,826.05L378.26,826.25L379.13,826.45L380.00,826.65L380.87,826.85L381.74,827.04L382.60,827.24L383.47,827.43L384.34,827.63L385.21,827.82L386.08,828.02L386.95,828.21L387.82,828.40L388.69,828.60L389.56,828.79L390.43,828.98L391.30,829.17L392.17,829.36L393.04,829.55L393.91,829.74L394.79,829.93L395.66,830.12L396.53,830.30L397.40,830.49L398.27,830.68L399.14,830.86L400.01,831.05L400.88,831.24L401.75,831.42L402.62,831.60L403.49,831.79L404.36,831.97L405.23,832.15L406.10,832.34L406.97,832.52L407.85,832.70L408.72,832.88L409.59,833.06L410.46,833.24L411.33,833.42L412.20,833.60L413.07,833.78L413.94,833.95L414.81,834.13L415.68,834.31L416.55,834.49L417.43,834.66L418.30,834.84L419.17,835.01L420.04,835.19L420.91,835.36L421.78,835.53L422.65,835.71L423.52,835.88L424.39,836.05L425.27,836.22L426.14,836.39L427.01,836.56L427.88,836.73L428.75,836.90L429.62,837.07L430.49,837.24L431.37,837.41L432.24,837.58L433.11,837.75L433.98,837.91L434.85,838.08L435.72,838.24L436.59,838.41L437.47,838.57L438.34,838.74L439.21,838.90L440.08,839.07L440.95,839.23L441.82,839.39L442.70,839.55L443.57,839.71L444.44,839.87L445.31,840.04L446.18,840.20L447.06,840.35L447.93,840.51L448.80,840.67L449.67,840.83L450.54,840.99L451.41,841.14L452.29,841.30L453.16,841.46L454.03,841.61L454.90,841.77L455.78,841.92L456.65,842.08L457.52,842.23L458.39,842.38L459.26,842.54L460.14,842.69L461.01,842.84L461.88,842.99L462.75,843.14L463.63,843.29L464.50,843.44L465.37,843.59L466.24,843.74L467.11,843.89L467.99,844.04L468.86,844.18L469.73,844.33L470.60,844.48L471.48,844.62L472.35,844.77L473.22,844.91L474.10,845.06L474.97,845.20L475.84,845.34L476.71,845.49L477.59,845.63L478.46,845.77L479.33,845.91L480.20,846.05L481.08,846.19L481.95,846.33L482.82,846.47L483.70,846.61L484.57,846.75L485.44,846.89L486.32,847.03L487.19,847.16L488.06,847.30L488.93,847.44L489.81,847.57L490.68,847.71L491.55,847.84L492.43,847.98L493.30,848.11L494.17,848.24L495.05,848.38L495.92,848.51L496.79,848.64L497.67,848.77L498.54,848.90L499.41,849.03L500.29,849.16L501.16,849.29L502.04,849.42L502.91,849.55L503.78,849.68L504.66,849.80L505.53,849.93L506.40,850.06L507.28,850.18L508.15,850.31L509.03,850.43L509.90,850.56L510.77,850.68L511.65,850.81L512.52,850.93L513.39,851.05L514.27,851.17L515.14,851.29L516.02,851.42L516.89,851.54L517.77,851.66L518.64,851.78L519.51,851.90L520.39,852.01L521.26,852.13L522.14,852.25L523.01,852.37L523.89,852.48L524.76,852.60L525.63,852.72L526.51,852.83L527.38,852.95L528.26,853.06L529.13,853.17L530.01,853.29L530.88,853.40L531.76,853.51L532.63,853.62L533.51,853.73L534.38,853.85L535.26,853.96L536.13,854.07L537.01,854.17L537.88,854.28L538.75,854.39L539.63,854.50L540.50,854.61L541.38,854.71L542.26,854.82L543.13,854.93L544.01,855.03L544.88,855.14L545.76,855.24L546.63,855.35L547.51,855.45L548.38,855.55L549.26,855.65L550.13,855.76L551.01,855.86L551.88,855.96L552.76,856.06L553.63,856.16L554.51,856.26L555.39,856.36L556.26,856.46L557.14,856.56L558.01,856.65L558.89,856.75L559.76,856.85L560.64,856.94L561.52,857.04L562.39,857.13L563.27,857.23L564.14,857.32L565.02,857.42L565.90,857.51L566.77,857.60L567.65,857.70L568.52,857.79L569.40,857.88L570.28,857.97L571.15,858.06L572.03,858.15L572.91,858.24L573.78,858.33L574.66,858.42L575.54,858.51L576.41,858.60L577.29,858.69L578.16,858.77L579.04,858.86L579.92,858.95L580.79,859.03L581.67,859.12L582.55,859.21L583.43,859.29L584.30,859.38L585.18,859.46L586.06,859.55L586.93,859.63L587.81,859.71L588.69,859.80L589.56,859.88L590.44,859.96L591.32,860.04L592.20,860.13L593.07,860.21L593.95,860.29L594.83,860.37L595.71,860.45L596.58,860.53L597.46,860.61L598.34,860.69L599.22,860.77L600.09,860.85L600.97,860.93L601.85,861.01L602.73,861.09L603.60,861.16L604.48,861.24L605.36,861.32L606.24,861.40L607.11,861.47L607.99,861.55L608.87,861.63L609.75,861.71L610.63,861.78L611.51,861.86L612.38,861.93L613.26,862.01L614.14,862.08L615.02,862.16L615.90,862.24L616.77,862.31L617.65,862.38L618.53,862.46L619.41,862.53L620.29,862.61L621.17,862.68L622.05,862.76L622.92,862.83L623.80,862.90L624.68,862.98L625.56,863.05L626.44,863.12L627.32,863.20L628.20,863.27L629.08,863.34L629.96,863.41L630.83,863.49L631.71,863.56L632.59,863.63L633.47,863.70L634.35,863.77L635.23,863.85L636.11,863.92L636.99,863.99L637.87,864.06L638.75,864.13L639.63,864.20L640.51,864.28L641.39,864.35L642.27,864.42L643.15,864.49L644.03,864.56L644.91,864.63L645.79,864.70L646.67,864.77L647.55,864.84L648.43,864.92L649.31,864.99L650.19,865.06L651.07,865.13L651.95,865.20L652.83,865.27L653.71,865.34L654.59,865.41L655.47,865.48L656.35,865.55L657.23,865.62L658.11,865.69L658.99,865.77L659.87,865.84L660.75,865.91L661.63,865.98L662.51,866.05L663.39,866.12L664.27,866.19L665.15,866.26L666.03,866.33L666.92,866.41L667.80,866.48L668.68,866.55L669.56,866.62L670.44,866.69L671.32,866.76L672.20,866.83L673.08,866.91L673.97,866.98L674.85,867.05L675.73,867.12L676.61,867.20L677.49,867.27L678.37,867.34L679.25,867.41L680.14,867.49L681.02,867.56L681.90,867.63L682.78,867.70L683.66,867.78L684.55,867.85L685.43,867.93L686.31,868.00L687.19,868.07L688.07,868.15L688.96,868.22L689.84,868.30L690.72,868.37L691.60,868.45L692.48,868.52L693.37,868.60L694.25,868.67L695.13,868.75L696.01,868.82L696.90,868.90L697.78,868.98L698.66,869.05L699.55,869.13L700.43,869.21L701.31,869.28L702.19,869.36L703.08,869.44L703.96,869.52L704.84,869.59L705.73,869.67L706.61,869.75L707.49,869.83L708.38,869.91L709.26,869.99L710.14,870.07L711.03,870.15L711.91,870.23L712.79,870.31L713.68,870.39L714.56,870.47L715.44,870.55L716.33,870.64L717.21,870.72L718.10,870.80L718.98,870.88L719.86,870.97L720.75,871.05L721.63,871.13L722.52,871.22L723.40,871.30L724.28,871.39L725.17,871.47L726.05,871.56L726.94,871.64L727.60,871.71" fill="none" stroke="#008000" stroke-width="4.5" stroke-linecap="round" stroke-linejoin="round"/></g>
<g id="frame"><rect x="110.3" y="385.3" width="617.30" height="561.40" fill="none" stroke="#000" stroke-width="3.0" stroke-linejoin="miter"/><path d="M161.74,946.7v-5.25M161.74,385.3v5.25M213.18,946.7v-11.0M213.18,385.3v11.0M264.63,946.7v-5.25M264.63,385.3v5.25M316.07,946.7v-11.0M316.07,385.3v11.0M367.51,946.7v-5.25M367.51,385.3v5.25M418.95,946.7v-11.0M418.95,385.3v11.0M470.39,946.7v-5.25M470.39,385.3v5.25M521.83,946.7v-11.0M521.83,385.3v11.0M573.28,946.7v-5.25M573.28,385.3v5.25M624.72,946.7v-11.0M624.72,385.3v11.0M676.16,946.7v-5.25M676.16,385.3v5.25M110.3,876.53h5.25M727.6,876.53h-5.25M110.3,806.35h11.0M727.6,806.35h-11.0M110.3,736.18h5.25M727.6,736.18h-5.25M110.3,666.00h11.0M727.6,666.00h-11.0M110.3,595.83h5.25M727.6,595.83h-5.25M110.3,525.65h11.0M727.6,525.65h-11.0M110.3,455.48h5.25M727.6,455.48h-5.25" fill="none" stroke="#000" stroke-width="3.0" stroke-linecap="round"/></g>
<g id="labels"><path transform="translate(50.97,956.80) scale(0.01704,-0.016983695652173912)" d="M763 0H583V1147Q518 1085 412.5 1023T223 930V1104Q374 1175 487 1276T647 1472H763Z" fill="#000"/><text transform="translate(70.84,956.80) rotate(0.03) scale(0.975,1.015)" font-size="35.0" text-anchor="start">.0</text><path transform="translate(50.97,816.45) scale(0.01704,-0.016983695652173912)" d="M763 0H583V1147Q518 1085 412.5 1023T223 930V1104Q374 1175 487 1276T647 1472H763Z" fill="#000"/><text transform="translate(70.84,816.45) rotate(0.03) scale(0.975,1.015)" font-size="35.0" text-anchor="start">.5</text><text transform="translate(51.87,676.10) rotate(0.03) scale(0.975,1.015)" font-size="35.0" text-anchor="start">2.0</text><text transform="translate(51.87,535.75) rotate(0.03) scale(0.975,1.015)" font-size="35.0" text-anchor="start">2.5</text><text transform="translate(51.87,395.40) rotate(0.03) scale(0.975,1.015)" font-size="35.0" text-anchor="start">3.0</text><text transform="translate(86.78,985.50) rotate(0.03) scale(0.975,1.015)" font-size="35.0" text-anchor="start">0.0</text><text transform="translate(189.67,985.50) rotate(0.03) scale(0.975,1.015)" font-size="35.0" text-anchor="start">0.2</text><text transform="translate(292.55,985.50) rotate(0.03) scale(0.975,1.015)" font-size="35.0" text-anchor="start">0.4</text><text transform="translate(395.43,985.50) rotate(0.03) scale(0.975,1.015)" font-size="35.0" text-anchor="start">0.6</text><text transform="translate(498.32,985.50) rotate(0.03) scale(0.975,1.015)" font-size="35.0" text-anchor="start">0.8</text><path transform="translate(600.30,985.50) scale(0.01704,-0.016983695652173912)" d="M763 0H583V1147Q518 1085 412.5 1023T223 930V1104Q374 1175 487 1276T647 1472H763Z" fill="#000"/><text transform="translate(620.17,985.50) rotate(0.03) scale(0.975,1.015)" font-size="35.0" text-anchor="start">.0</text><path transform="translate(703.18,985.50) scale(0.01704,-0.016983695652173912)" d="M763 0H583V1147Q518 1085 412.5 1023T223 930V1104Q374 1175 487 1276T647 1472H763Z" fill="#000"/><text transform="translate(723.06,985.50) rotate(0.03) scale(0.975,1.015)" font-size="35.0" text-anchor="start">.2</text><text transform="translate(380.60,1057.50) rotate(0.03) scale(0.975,0.985)" font-size="44.0" text-anchor="start">n/k</text><text transform="translate(438.00,1033.80) rotate(0.03) scale(1.0,1.0)" font-size="27.0" text-anchor="start">D</text><text transform="translate(438.30,1074.60) rotate(0.03) scale(1.0,1.0)" font-size="27.0" text-anchor="start">r</text><g transform="translate(37.7,756.0) rotate(-90)"><text transform="translate(21.00,17.00) rotate(0.03) scale(1,1)" font-size="27.0" text-anchor="start" stroke="#000" stroke-width="0.5">xx</text><text transform="translate(46.50,0.00) rotate(0.03) scale(0.985,0.96)" font-size="44.0" text-anchor="start">/nm</text></g><path d="M19.94,737.95L45.84,750.90L45.84,754.82L19.94,742.47Z" fill="#000"/><path d="M39.94,736.33L42.83,736.75L45.24,738.55L46.14,740.78L45.24,743.07L42.53,744.58L38.92,745.66L34.10,746.81L28.07,748.19L24.46,749.22L22.35,750.30L21.75,751.81L22.95,753.61L26.14,754.88L25.96,755.84L22.95,755.42L20.24,753.92L19.04,751.81L19.64,749.70L22.05,748.19L25.66,747.05L28.07,746.45L34.10,745.60L38.31,744.58L41.33,743.37L42.83,741.99L43.01,740.36L41.93,738.73L40.12,737.53Z" fill="#000"/></g>
<g id="legend"><rect x="761.9" y="379.60" width="100" height="573.90" fill="#000"/><rect x="753.55" y="371.3" width="100" height="573.90" fill="#fff" stroke="#000" stroke-width="1.3"/><path d="M771.40,426.20L771.62,426.20L773.40,426.20L775.17,426.20L776.95,426.20L778.73,426.20L780.50,426.20L781.90,426.20M790.10,426.20L790.27,426.20L790.50,426.20M799.16,426.20L799.38,426.20L801.16,426.20L802.93,426.20L804.71,426.20L806.48,426.20L808.26,426.20L809.66,426.20M817.86,426.20L818.03,426.20L818.26,426.20M826.92,426.20L827.14,426.20L828.91,426.20L830.69,426.20L832.47,426.20L834.24,426.20L836.02,426.20L837.42,426.20M845.62,426.20L845.79,426.20L846.02,426.20M854.68,426.20L854.89,426.20L856.67,426.20L858.45,426.20L860.00,426.20" fill="none" stroke="#ff0000" stroke-width="4.5" stroke-linecap="round" stroke-linejoin="round"/><path d="M771.40,467.75L771.62,467.75L773.40,467.75L775.17,467.75L776.95,467.75L778.73,467.75L780.50,467.75L781.90,467.75M790.10,467.75L790.27,467.75L790.50,467.75M799.16,467.75L799.38,467.75L801.16,467.75L802.93,467.75L804.71,467.75L806.48,467.75L808.26,467.75L809.66,467.75M817.86,467.75L818.03,467.75L818.26,467.75M826.92,467.75L827.14,467.75L828.91,467.75L830.69,467.75L832.47,467.75L834.24,467.75L836.02,467.75L837.42,467.75M845.62,467.75L845.79,467.75L846.02,467.75M854.68,467.75L854.89,467.75L856.67,467.75L858.45,467.75L860.00,467.75" fill="none" stroke="#0000ff" stroke-width="4.5" stroke-linecap="round" stroke-linejoin="round"/><path d="M771.40,509.30L771.62,509.30L773.40,509.30L775.17,509.30L776.95,509.30L778.73,509.30L780.50,509.30L781.90,509.30M790.10,509.30L790.27,509.30L790.50,509.30M799.16,509.30L799.38,509.30L801.16,509.30L802.93,509.30L804.71,509.30L806.48,509.30L808.26,509.30L809.66,509.30M817.86,509.30L818.03,509.30L818.26,509.30M826.92,509.30L827.14,509.30L828.91,509.30L830.69,509.30L832.47,509.30L834.24,509.30L836.02,509.30L837.42,509.30M845.62,509.30L845.79,509.30L846.02,509.30M854.68,509.30L854.89,509.30L856.67,509.30L858.45,509.30L860.00,509.30" fill="none" stroke="#008000" stroke-width="4.5" stroke-linecap="round" stroke-linejoin="round"/><circle cx="771.40" cy="550.85" r="3.0" fill="#ff0000"/><circle cx="781.15" cy="550.85" r="3.0" fill="#ff0000"/><circle cx="790.90" cy="550.85" r="3.0" fill="#ff0000"/><circle cx="800.65" cy="550.85" r="3.0" fill="#ff0000"/><circle cx="810.40" cy="550.85" r="3.0" fill="#ff0000"/><circle cx="820.15" cy="550.85" r="3.0" fill="#ff0000"/><circle cx="829.90" cy="550.85" r="3.0" fill="#ff0000"/><circle cx="839.65" cy="550.85" r="3.0" fill="#ff0000"/><circle cx="849.40" cy="550.85" r="3.0" fill="#ff0000"/><circle cx="859.15" cy="550.85" r="3.0" fill="#ff0000"/><circle cx="771.40" cy="592.40" r="3.0" fill="#0000ff"/><circle cx="781.15" cy="592.40" r="3.0" fill="#0000ff"/><circle cx="790.90" cy="592.40" r="3.0" fill="#0000ff"/><circle cx="800.65" cy="592.40" r="3.0" fill="#0000ff"/><circle cx="810.40" cy="592.40" r="3.0" fill="#0000ff"/><circle cx="820.15" cy="592.40" r="3.0" fill="#0000ff"/><circle cx="829.90" cy="592.40" r="3.0" fill="#0000ff"/><circle cx="839.65" cy="592.40" r="3.0" fill="#0000ff"/><circle cx="849.40" cy="592.40" r="3.0" fill="#0000ff"/><circle cx="859.15" cy="592.40" r="3.0" fill="#0000ff"/><circle cx="771.40" cy="633.95" r="3.0" fill="#008000"/><circle cx="781.15" cy="633.95" r="3.0" fill="#008000"/><circle cx="790.90" cy="633.95" r="3.0" fill="#008000"/><circle cx="800.65" cy="633.95" r="3.0" fill="#008000"/><circle cx="810.40" cy="633.95" r="3.0" fill="#008000"/><circle cx="820.15" cy="633.95" r="3.0" fill="#008000"/><circle cx="829.90" cy="633.95" r="3.0" fill="#008000"/><circle cx="839.65" cy="633.95" r="3.0" fill="#008000"/><circle cx="849.40" cy="633.95" r="3.0" fill="#008000"/><circle cx="859.15" cy="633.95" r="3.0" fill="#008000"/><path d="M771.4,675.50H860" fill="none" stroke="#ff0000" stroke-width="4.5" stroke-linecap="round" stroke-linejoin="round"/><path d="M771.4,717.05H860" fill="none" stroke="#0000ff" stroke-width="4.5" stroke-linecap="round" stroke-linejoin="round"/><path d="M771.4,758.60H860" fill="none" stroke="#008000" stroke-width="4.5" stroke-linecap="round" stroke-linejoin="round"/><path d="M771.40,800.15L771.62,800.15L773.40,800.15L775.17,800.15L776.95,800.15L778.73,800.15L780.50,800.15L782.28,800.15L784.06,800.15L785.70,800.15M806.20,800.15L806.26,800.15L808.04,800.15L809.82,800.15L811.59,800.15L813.37,800.15L815.14,800.15L816.92,800.15L818.70,800.15L820.47,800.15L820.50,800.15M841.00,800.15L841.13,800.15L842.90,800.15L844.68,800.15L846.45,800.15L848.23,800.15L850.01,800.15L851.78,800.15L853.56,800.15L855.30,800.15" fill="none" stroke="#ff0000" stroke-width="4.5" stroke-linecap="round" stroke-linejoin="round"/><path d="M771.40,841.70L771.62,841.70L773.40,841.70L775.17,841.70L776.95,841.70L778.73,841.70L780.50,841.70L782.28,841.70L784.06,841.70L785.70,841.70M806.20,841.70L806.26,841.70L808.04,841.70L809.82,841.70L811.59,841.70L813.37,841.70L815.14,841.70L816.92,841.70L818.70,841.70L820.47,841.70L820.50,841.70M841.00,841.70L841.13,841.70L842.90,841.70L844.68,841.70L846.45,841.70L848.23,841.70L850.01,841.70L851.78,841.70L853.56,841.70L855.30,841.70" fill="none" stroke="#0000ff" stroke-width="4.5" stroke-linecap="round" stroke-linejoin="round"/><path d="M771.40,883.25L771.62,883.25L773.40,883.25L775.17,883.25L776.95,883.25L778.73,883.25L780.50,883.25L782.28,883.25L784.06,883.25L785.70,883.25M806.20,883.25L806.26,883.25L808.04,883.25L809.82,883.25L811.59,883.25L813.37,883.25L815.14,883.25L816.92,883.25L818.70,883.25L820.47,883.25L820.50,883.25M841.00,883.25L841.13,883.25L842.90,883.25L844.68,883.25L846.45,883.25L848.23,883.25L850.01,883.25L851.78,883.25L853.56,883.25L855.30,883.25" fill="none" stroke="#008000" stroke-width="4.5" stroke-linecap="round" stroke-linejoin="round"/></g>
</svg>
</body></html>
